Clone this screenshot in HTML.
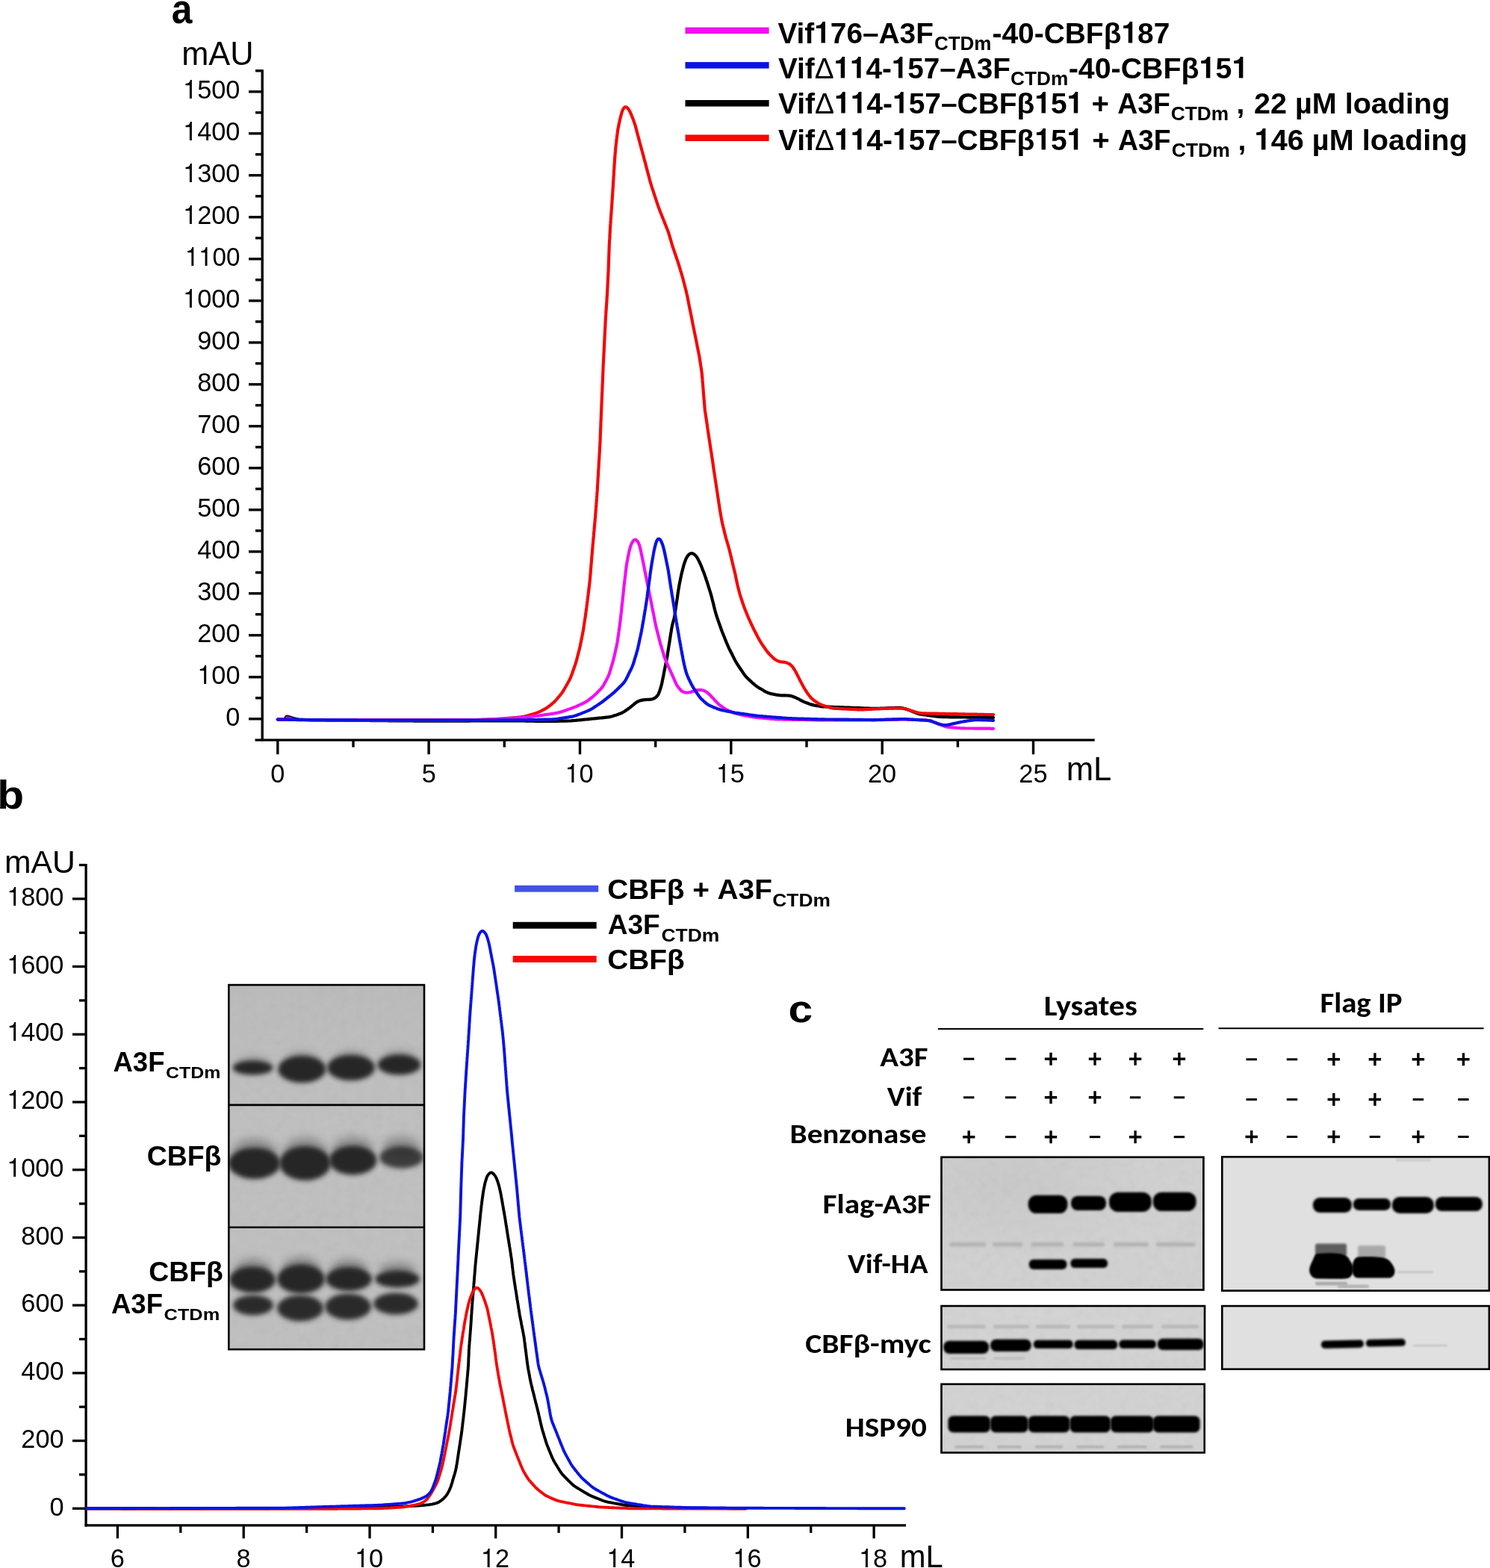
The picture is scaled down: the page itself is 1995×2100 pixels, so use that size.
<!DOCTYPE html>
<html><head><meta charset="utf-8"><title>Figure</title>
<style>html,body{margin:0;padding:0;background:#fff;overflow:hidden}svg{display:block}</style>
</head><body>
<svg width="1995" height="2100" viewBox="0 0 1995 2100">
<defs>
<filter id="b1" x="-20%" y="-100%" width="140%" height="300%"><feGaussianBlur stdDeviation="0.8"/></filter>
<filter id="b2" x="-20%" y="-60%" width="140%" height="220%"><feGaussianBlur stdDeviation="1.6"/></filter>
<filter id="b3" x="-30%" y="-60%" width="160%" height="220%"><feGaussianBlur stdDeviation="3"/></filter>
<filter id="b6" x="-40%" y="-80%" width="180%" height="260%"><feGaussianBlur stdDeviation="6"/></filter>
<linearGradient id="gtop" x1="0" y1="0" x2="0" y2="1"><stop offset="0" stop-color="#b0b0b0" stop-opacity="0.6"/><stop offset="1" stop-color="#b0b0b0" stop-opacity="0"/></linearGradient>
<linearGradient id="btop" x1="0" y1="0" x2="0" y2="1"><stop offset="0" stop-color="#c4c4c4" stop-opacity="0.8"/><stop offset="1" stop-color="#c4c4c4" stop-opacity="0"/></linearGradient>
<filter id="noise" x="0" y="0" width="100%" height="100%"><feTurbulence type="fractalNoise" baseFrequency="0.09" numOctaves="2" seed="3"/><feColorMatrix type="saturate" values="0"/></filter>
<radialGradient id="lyg" cx="0.25" cy="0.2" r="0.6"><stop offset="0" stop-color="#b8b8b8" stop-opacity="0.35"/><stop offset="1" stop-color="#b8b8b8" stop-opacity="0"/></radialGradient>
<clipPath id="gelclip"><rect x="306.3" y="1319.1" width="261.7" height="488.1"/></clipPath>
</defs>
<rect width="1995" height="2100" fill="#fff"/>
<text x="229.71" y="30.70" font-family='"Liberation Sans", Arial, sans-serif' font-weight="bold" font-size="56.00" fill="#000" textLength="27.65" lengthAdjust="spacingAndGlyphs">a</text>
<text x="243.28" y="87.40" font-family='"Liberation Sans", Arial, sans-serif' font-weight="normal" font-size="43.50" fill="#000" textLength="96.26" lengthAdjust="spacingAndGlyphs">mAU</text>
<path d="M351.2,93.3 V992.8" stroke="#000" stroke-width="3.4" fill="none"/>
<path d="M333,962.8 H351" stroke="#000" stroke-width="3.4"/>
<text x="302.34" y="971.70" font-family='"Liberation Sans", Arial, sans-serif' font-weight="normal" font-size="35.20" fill="#000" textLength="19.08" lengthAdjust="spacingAndGlyphs">0</text>
<path d="M342,934.8 H351" stroke="#000" stroke-width="3.4"/>
<path d="M333,906.8 H351" stroke="#000" stroke-width="3.4"/>
<text x="264.26" y="915.70" font-family='"Liberation Sans", Arial, sans-serif' font-weight="normal" font-size="35.20" fill="#000" textLength="57.23" lengthAdjust="spacingAndGlyphs"><tspan font-family="FreeSans, 'Liberation Sans', sans-serif">1</tspan>00</text>
<path d="M342,878.8 H351" stroke="#000" stroke-width="3.4"/>
<path d="M333,850.8 H351" stroke="#000" stroke-width="3.4"/>
<text x="264.26" y="859.70" font-family='"Liberation Sans", Arial, sans-serif' font-weight="normal" font-size="35.20" fill="#000" textLength="57.23" lengthAdjust="spacingAndGlyphs">200</text>
<path d="M342,822.8 H351" stroke="#000" stroke-width="3.4"/>
<path d="M333,794.8 H351" stroke="#000" stroke-width="3.4"/>
<text x="264.26" y="803.70" font-family='"Liberation Sans", Arial, sans-serif' font-weight="normal" font-size="35.20" fill="#000" textLength="57.23" lengthAdjust="spacingAndGlyphs">300</text>
<path d="M342,766.8 H351" stroke="#000" stroke-width="3.4"/>
<path d="M333,738.8 H351" stroke="#000" stroke-width="3.4"/>
<text x="264.26" y="747.70" font-family='"Liberation Sans", Arial, sans-serif' font-weight="normal" font-size="35.20" fill="#000" textLength="57.23" lengthAdjust="spacingAndGlyphs">400</text>
<path d="M342,710.8 H351" stroke="#000" stroke-width="3.4"/>
<path d="M333,682.8 H351" stroke="#000" stroke-width="3.4"/>
<text x="264.26" y="691.70" font-family='"Liberation Sans", Arial, sans-serif' font-weight="normal" font-size="35.20" fill="#000" textLength="57.23" lengthAdjust="spacingAndGlyphs">500</text>
<path d="M342,654.8 H351" stroke="#000" stroke-width="3.4"/>
<path d="M333,626.8 H351" stroke="#000" stroke-width="3.4"/>
<text x="264.26" y="635.70" font-family='"Liberation Sans", Arial, sans-serif' font-weight="normal" font-size="35.20" fill="#000" textLength="57.23" lengthAdjust="spacingAndGlyphs">600</text>
<path d="M342,598.8 H351" stroke="#000" stroke-width="3.4"/>
<path d="M333,570.8 H351" stroke="#000" stroke-width="3.4"/>
<text x="264.26" y="579.70" font-family='"Liberation Sans", Arial, sans-serif' font-weight="normal" font-size="35.20" fill="#000" textLength="57.23" lengthAdjust="spacingAndGlyphs">700</text>
<path d="M342,542.8 H351" stroke="#000" stroke-width="3.4"/>
<path d="M333,514.8 H351" stroke="#000" stroke-width="3.4"/>
<text x="264.26" y="523.70" font-family='"Liberation Sans", Arial, sans-serif' font-weight="normal" font-size="35.20" fill="#000" textLength="57.23" lengthAdjust="spacingAndGlyphs">800</text>
<path d="M342,486.8 H351" stroke="#000" stroke-width="3.4"/>
<path d="M333,458.8 H351" stroke="#000" stroke-width="3.4"/>
<text x="264.26" y="467.70" font-family='"Liberation Sans", Arial, sans-serif' font-weight="normal" font-size="35.20" fill="#000" textLength="57.23" lengthAdjust="spacingAndGlyphs">900</text>
<path d="M342,430.8 H351" stroke="#000" stroke-width="3.4"/>
<path d="M333,402.8 H351" stroke="#000" stroke-width="3.4"/>
<text x="245.05" y="411.70" font-family='"Liberation Sans", Arial, sans-serif' font-weight="normal" font-size="35.20" fill="#000" textLength="76.31" lengthAdjust="spacingAndGlyphs"><tspan font-family="FreeSans, 'Liberation Sans', sans-serif">1</tspan>000</text>
<path d="M342,374.8 H351" stroke="#000" stroke-width="3.4"/>
<path d="M333,346.8 H351" stroke="#000" stroke-width="3.4"/>
<text x="247.63" y="355.70" font-family='"Liberation Sans", Arial, sans-serif' font-weight="normal" font-size="35.20" fill="#000" textLength="73.76" lengthAdjust="spacingAndGlyphs"><tspan font-family="FreeSans, 'Liberation Sans', sans-serif">1</tspan><tspan font-family="FreeSans, 'Liberation Sans', sans-serif">1</tspan>00</text>
<path d="M342,318.8 H351" stroke="#000" stroke-width="3.4"/>
<path d="M333,290.8 H351" stroke="#000" stroke-width="3.4"/>
<text x="245.05" y="299.70" font-family='"Liberation Sans", Arial, sans-serif' font-weight="normal" font-size="35.20" fill="#000" textLength="76.31" lengthAdjust="spacingAndGlyphs"><tspan font-family="FreeSans, 'Liberation Sans', sans-serif">1</tspan>200</text>
<path d="M342,262.8 H351" stroke="#000" stroke-width="3.4"/>
<path d="M333,234.8 H351" stroke="#000" stroke-width="3.4"/>
<text x="245.05" y="243.70" font-family='"Liberation Sans", Arial, sans-serif' font-weight="normal" font-size="35.20" fill="#000" textLength="76.31" lengthAdjust="spacingAndGlyphs"><tspan font-family="FreeSans, 'Liberation Sans', sans-serif">1</tspan>300</text>
<path d="M342,206.8 H351" stroke="#000" stroke-width="3.4"/>
<path d="M333,178.8 H351" stroke="#000" stroke-width="3.4"/>
<text x="245.05" y="187.70" font-family='"Liberation Sans", Arial, sans-serif' font-weight="normal" font-size="35.20" fill="#000" textLength="76.31" lengthAdjust="spacingAndGlyphs"><tspan font-family="FreeSans, 'Liberation Sans', sans-serif">1</tspan>400</text>
<path d="M342,150.8 H351" stroke="#000" stroke-width="3.4"/>
<path d="M333,122.8 H351" stroke="#000" stroke-width="3.4"/>
<text x="245.05" y="131.70" font-family='"Liberation Sans", Arial, sans-serif' font-weight="normal" font-size="35.20" fill="#000" textLength="76.31" lengthAdjust="spacingAndGlyphs"><tspan font-family="FreeSans, 'Liberation Sans', sans-serif">1</tspan>500</text>
<path d="M342,94.8 H351" stroke="#000" stroke-width="3.4"/>
<path d="M341.5,991.1 H1465.7" stroke="#000" stroke-width="3.4"/>
<path d="M371.8,991 V1010.3" stroke="#000" stroke-width="3.4"/>
<text x="362.28" y="1048.00" font-family='"Liberation Sans", Arial, sans-serif' font-weight="normal" font-size="35.20" fill="#000" textLength="19.08" lengthAdjust="spacingAndGlyphs">0</text>
<path d="M473.0,991 V1000.7" stroke="#000" stroke-width="3.4"/>
<path d="M574.1,991 V1010.3" stroke="#000" stroke-width="3.4"/>
<text x="564.63" y="1048.00" font-family='"Liberation Sans", Arial, sans-serif' font-weight="normal" font-size="35.20" fill="#000" textLength="19.08" lengthAdjust="spacingAndGlyphs">5</text>
<path d="M675.3,991 V1000.7" stroke="#000" stroke-width="3.4"/>
<path d="M776.5,991 V1010.3" stroke="#000" stroke-width="3.4"/>
<text x="756.43" y="1048.00" font-family='"Liberation Sans", Arial, sans-serif' font-weight="normal" font-size="35.20" fill="#000" textLength="38.15" lengthAdjust="spacingAndGlyphs"><tspan font-family="FreeSans, 'Liberation Sans', sans-serif">1</tspan>0</text>
<path d="M877.7,991 V1000.7" stroke="#000" stroke-width="3.4"/>
<path d="M978.8,991 V1010.3" stroke="#000" stroke-width="3.4"/>
<text x="958.78" y="1048.00" font-family='"Liberation Sans", Arial, sans-serif' font-weight="normal" font-size="35.20" fill="#000" textLength="38.15" lengthAdjust="spacingAndGlyphs"><tspan font-family="FreeSans, 'Liberation Sans', sans-serif">1</tspan>5</text>
<path d="M1080.0,991 V1000.7" stroke="#000" stroke-width="3.4"/>
<path d="M1181.2,991 V1010.3" stroke="#000" stroke-width="3.4"/>
<text x="1161.99" y="1048.00" font-family='"Liberation Sans", Arial, sans-serif' font-weight="normal" font-size="35.20" fill="#000" textLength="38.15" lengthAdjust="spacingAndGlyphs">20</text>
<path d="M1282.4,991 V1000.7" stroke="#000" stroke-width="3.4"/>
<path d="M1383.5,991 V1010.3" stroke="#000" stroke-width="3.4"/>
<text x="1364.34" y="1048.00" font-family='"Liberation Sans", Arial, sans-serif' font-weight="normal" font-size="35.20" fill="#000" textLength="38.15" lengthAdjust="spacingAndGlyphs">25</text>
<text x="1427.66" y="1045.40" font-family='"Liberation Sans", Arial, sans-serif' font-weight="normal" font-size="43.50" fill="#000" textLength="60.61" lengthAdjust="spacingAndGlyphs">mL</text>
<path d="M371.8,963.6 L373.0,963.6 L374.7,963.7 L376.6,963.7 L378.6,963.7 L380.6,963.8 L382.6,963.8 L384.6,963.8 L386.6,963.9 L388.6,963.9 L390.6,963.9 L392.6,964.0 L394.6,964.0 L396.6,964.0 L398.6,964.1 L400.6,964.1 L402.6,964.1 L404.6,964.2 L406.6,964.2 L408.6,964.2 L410.6,964.2 L412.6,964.3 L414.6,964.3 L416.6,964.3 L418.6,964.4 L420.6,964.4 L422.6,964.4 L424.6,964.4 L426.6,964.5 L428.6,964.5 L430.6,964.5 L432.6,964.5 L434.6,964.5 L436.6,964.5 L438.6,964.6 L440.6,964.6 L442.6,964.6 L444.6,964.6 L446.6,964.6 L448.6,964.6 L450.6,964.7 L452.6,964.7 L454.6,964.7 L456.6,964.7 L458.6,964.7 L460.6,964.7 L462.6,964.8 L464.6,964.8 L466.6,964.8 L468.6,964.8 L470.6,964.8 L472.6,964.9 L474.6,964.9 L476.6,964.9 L478.6,964.9 L480.6,964.9 L482.6,964.9 L484.6,965.0 L486.6,965.0 L488.6,965.0 L490.6,965.0 L492.6,965.0 L494.6,965.0 L496.6,965.1 L498.6,965.1 L500.6,965.1 L502.6,965.1 L504.6,965.1 L506.6,965.1 L508.6,965.2 L510.6,965.2 L512.6,965.2 L514.6,965.2 L516.6,965.2 L518.6,965.2 L520.6,965.3 L522.6,965.3 L524.6,965.3 L526.6,965.3 L528.6,965.3 L530.6,965.3 L532.6,965.4 L534.5,965.4 L536.5,965.4 L538.5,965.4 L540.5,965.4 L542.5,965.5 L544.5,965.5 L546.5,965.5 L548.5,965.5 L550.5,965.5 L552.5,965.5 L554.5,965.6 L556.5,965.6 L558.5,965.6 L560.5,965.6 L562.5,965.6 L564.5,965.6 L566.5,965.6 L568.5,965.6 L570.5,965.6 L572.5,965.6 L574.5,965.6 L576.5,965.6 L578.5,965.6 L580.5,965.6 L582.5,965.6 L584.5,965.6 L586.5,965.6 L588.5,965.6 L590.5,965.6 L592.5,965.6 L594.5,965.6 L596.5,965.6 L598.5,965.6 L600.5,965.6 L602.5,965.6 L604.5,965.6 L606.5,965.6 L608.5,965.6 L610.5,965.6 L612.5,965.6 L614.5,965.6 L616.5,965.6 L618.5,965.6 L620.5,965.6 L622.5,965.6 L624.5,965.6 L626.5,965.6 L628.5,965.6 L630.5,965.5 L632.5,965.5 L634.5,965.5 L636.5,965.5 L638.5,965.5 L640.5,965.5 L642.5,965.5 L644.5,965.5 L646.5,965.5 L648.5,965.5 L650.5,965.5 L652.5,965.5 L654.5,965.5 L656.5,965.5 L658.5,965.5 L660.5,965.5 L662.5,965.5 L664.5,965.5 L666.5,965.5 L668.5,965.5 L670.5,965.5 L672.5,965.5 L674.5,965.5 L676.5,965.5 L678.5,965.5 L680.5,965.5 L682.5,965.5 L684.5,965.5 L686.5,965.5 L688.5,965.5 L690.5,965.5 L692.5,965.5 L694.5,965.5 L696.5,965.5 L698.5,965.5 L700.5,965.5 L702.5,965.5 L704.5,965.6 L706.5,965.6 L708.5,965.6 L710.5,965.7 L712.5,965.7 L714.5,965.7 L716.5,965.8 L718.5,965.8 L720.5,965.8 L722.5,965.9 L724.5,965.9 L726.5,965.9 L728.5,965.9 L730.5,966.0 L732.5,966.0 L734.5,966.0 L736.5,965.9 L738.5,965.9 L740.5,965.9 L742.5,965.8 L744.5,965.8 L746.5,965.8 L748.5,965.7 L750.5,965.7 L752.5,965.7 L754.5,965.6 L756.5,965.6 L758.5,965.6 L760.5,965.5 L762.5,965.5 L764.5,965.4 L766.5,965.2 L768.5,965.0 L770.5,964.9 L772.4,964.7 L774.4,964.5 L776.4,964.3 L778.4,964.1 L780.4,963.9 L782.4,963.7 L784.4,963.5 L786.4,963.3 L788.4,963.1 L790.3,962.9 L792.3,962.7 L794.3,962.5 L796.3,962.3 L798.3,962.1 L800.3,961.9 L802.3,961.7 L804.3,961.5 L806.3,961.3 L808.3,961.1 L810.2,960.9 L812.2,960.7 L814.2,960.5 L816.2,960.1 L818.1,959.7 L820.0,959.2 L821.9,958.6 L823.8,958.0 L825.7,957.4 L827.6,956.7 L829.5,956.0 L831.4,955.3 L833.2,954.5 L834.9,953.5 L836.6,952.5 L838.2,951.3 L839.9,950.2 L841.5,949.0 L843.1,947.9 L844.7,946.6 L846.2,945.4 L847.7,944.1 L849.3,942.8 L850.8,941.5 L852.4,940.4 L854.2,939.5 L856.0,938.7 L857.9,938.1 L859.8,937.6 L861.7,937.3 L863.7,937.1 L865.7,937.0 L867.7,936.9 L869.7,936.8 L871.6,936.7 L873.5,936.3 L875.3,935.6 L876.9,934.7 L878.5,933.5 L879.8,932.1 L881.0,930.6 L881.9,928.9 L882.6,927.0 L883.3,925.2 L883.9,923.3 L884.5,921.4 L885.1,919.5 L885.6,917.5 L886.1,915.6 L886.5,913.6 L886.9,911.7 L887.3,909.7 L887.7,907.8 L888.1,905.8 L888.5,903.8 L888.8,901.9 L889.2,899.9 L889.6,898.0 L890.0,896.0 L890.4,894.0 L890.8,892.1 L891.2,890.1 L891.6,888.2 L892.0,886.2 L892.4,884.2 L892.8,882.3 L893.1,880.3 L893.5,878.3 L893.8,876.4 L894.1,874.4 L894.4,872.4 L894.7,870.4 L895.0,868.5 L895.3,866.5 L895.6,864.5 L896.0,862.5 L896.3,860.6 L896.6,858.6 L896.9,856.6 L897.2,854.6 L897.5,852.7 L897.8,850.7 L898.1,848.7 L898.5,846.7 L898.8,844.8 L899.1,842.8 L899.4,840.8 L899.8,838.8 L900.2,836.9 L900.7,835.0 L901.2,833.0 L901.8,831.1 L902.3,829.2 L902.8,827.2 L903.1,825.3 L903.5,823.3 L903.8,821.3 L904.0,819.4 L904.3,817.4 L904.6,815.4 L904.9,813.4 L905.2,811.5 L905.5,809.5 L905.8,807.5 L906.1,805.5 L906.4,803.5 L906.7,801.6 L907.0,799.6 L907.3,797.6 L907.5,795.6 L907.8,793.7 L908.1,791.7 L908.4,789.7 L908.8,787.7 L909.1,785.8 L909.4,783.8 L909.8,781.8 L910.2,779.9 L910.6,777.9 L911.0,775.9 L911.4,774.0 L911.8,772.0 L912.2,770.1 L912.6,768.1 L913.1,766.2 L913.6,764.2 L914.1,762.3 L914.6,760.4 L915.1,758.4 L915.6,756.5 L916.2,754.6 L916.9,752.7 L917.6,750.8 L918.3,749.0 L919.1,747.2 L920.1,745.5 L921.2,744.0 L922.6,742.6 L924.1,741.6 L925.6,741.0 L927.1,741.1 L928.6,741.8 L930.1,742.9 L931.5,744.2 L932.7,745.7 L933.8,747.4 L934.7,749.1 L935.6,750.9 L936.5,752.7 L937.4,754.5 L938.2,756.3 L939.0,758.2 L939.7,760.0 L940.4,761.9 L941.1,763.8 L941.9,765.6 L942.6,767.5 L943.3,769.4 L943.9,771.2 L944.6,773.1 L945.2,775.0 L945.8,776.9 L946.5,778.8 L947.1,780.7 L947.7,782.6 L948.3,784.5 L948.9,786.4 L949.5,788.3 L950.1,790.3 L950.7,792.2 L951.3,794.1 L951.9,796.0 L952.4,797.9 L952.9,799.8 L953.4,801.8 L953.9,803.7 L954.4,805.7 L954.9,807.6 L955.4,809.5 L955.8,811.5 L956.3,813.4 L956.8,815.4 L957.3,817.3 L957.8,819.2 L958.3,821.2 L958.9,823.1 L959.5,825.0 L960.1,826.9 L960.8,828.8 L961.4,830.7 L962.1,832.5 L962.7,834.4 L963.4,836.3 L964.1,838.2 L964.7,840.1 L965.4,842.0 L966.1,843.9 L966.8,845.7 L967.5,847.6 L968.3,849.4 L969.0,851.3 L969.8,853.2 L970.5,855.0 L971.2,856.9 L972.0,858.7 L972.7,860.6 L973.5,862.4 L974.3,864.3 L975.1,866.1 L975.9,867.9 L976.8,869.7 L977.7,871.5 L978.6,873.3 L979.5,875.1 L980.4,876.8 L981.3,878.6 L982.2,880.4 L983.1,882.2 L984.0,884.0 L985.0,885.7 L986.0,887.5 L987.0,889.2 L988.1,890.8 L989.2,892.5 L990.3,894.2 L991.4,895.8 L992.6,897.5 L993.7,899.1 L994.8,900.8 L995.9,902.5 L997.1,904.1 L998.3,905.6 L999.6,907.1 L1001.1,908.5 L1002.5,909.9 L1004.0,911.2 L1005.4,912.6 L1006.9,914.0 L1008.4,915.3 L1009.9,916.6 L1011.4,917.9 L1013.0,919.1 L1014.6,920.2 L1016.3,921.3 L1018.1,922.3 L1019.8,923.3 L1021.5,924.3 L1023.2,925.4 L1024.9,926.3 L1026.7,927.2 L1028.5,928.0 L1030.4,928.6 L1032.3,929.1 L1034.3,929.5 L1036.2,929.9 L1038.2,930.3 L1040.2,930.6 L1042.1,930.9 L1044.1,931.2 L1046.1,931.3 L1048.1,931.4 L1050.1,931.4 L1052.1,931.4 L1054.1,931.5 L1056.1,931.6 L1058.0,931.9 L1059.9,932.3 L1061.8,933.0 L1063.7,933.7 L1065.5,934.4 L1067.3,935.3 L1069.1,936.2 L1070.9,937.1 L1072.6,938.1 L1074.4,939.0 L1076.2,939.8 L1078.0,940.6 L1079.9,941.3 L1081.8,942.0 L1083.6,942.7 L1085.5,943.4 L1087.4,943.9 L1089.4,944.4 L1091.3,944.8 L1093.3,945.2 L1095.3,945.5 L1097.2,945.8 L1099.2,946.1 L1101.2,946.3 L1103.2,946.4 L1105.2,946.5 L1107.2,946.6 L1109.2,946.7 L1111.2,946.7 L1113.2,946.8 L1115.2,946.9 L1117.2,947.0 L1119.2,947.0 L1121.2,947.1 L1123.2,947.2 L1125.2,947.3 L1127.2,947.4 L1129.2,947.4 L1131.2,947.5 L1133.2,947.6 L1135.2,947.7 L1137.1,947.7 L1139.1,947.8 L1141.1,947.9 L1143.1,948.0 L1145.1,948.0 L1147.1,948.1 L1149.1,948.2 L1151.1,948.2 L1153.1,948.3 L1155.1,948.4 L1157.1,948.5 L1159.1,948.5 L1161.1,948.6 L1163.1,948.7 L1165.1,948.8 L1167.1,948.8 L1169.1,948.9 L1171.1,948.9 L1173.1,948.9 L1175.1,948.9 L1177.1,948.8 L1179.1,948.7 L1181.1,948.6 L1183.1,948.5 L1185.1,948.5 L1187.1,948.4 L1189.1,948.3 L1191.1,948.2 L1193.1,948.1 L1195.1,948.1 L1197.1,948.0 L1199.1,947.9 L1201.1,947.8 L1203.1,947.8 L1205.1,947.9 L1207.0,948.1 L1209.0,948.5 L1210.9,949.0 L1212.8,949.6 L1214.7,950.2 L1216.6,950.8 L1218.4,951.6 L1220.3,952.3 L1222.1,953.1 L1224.0,953.9 L1225.8,954.6 L1227.7,955.3 L1229.6,955.9 L1231.5,956.4 L1233.5,956.7 L1235.4,957.0 L1237.4,957.3 L1239.4,957.5 L1241.4,957.8 L1243.4,958.1 L1245.3,958.3 L1247.3,958.6 L1249.3,958.9 L1251.3,959.1 L1253.3,959.4 L1255.3,959.7 L1257.2,959.9 L1259.2,960.0 L1261.2,960.1 L1263.2,960.2 L1265.2,960.2 L1267.2,960.2 L1269.2,960.2 L1271.2,960.3 L1273.2,960.3 L1275.2,960.3 L1277.2,960.3 L1279.2,960.4 L1281.2,960.4 L1283.2,960.4 L1285.2,960.4 L1287.2,960.5 L1289.2,960.5 L1291.2,960.5 L1293.2,960.5 L1295.2,960.6 L1297.2,960.6 L1299.2,960.6 L1301.2,960.6 L1303.2,960.7 L1305.2,960.7 L1307.2,960.7 L1309.2,960.7 L1311.2,960.8 L1313.2,960.8 L1315.2,960.8 L1317.2,960.8 L1319.2,960.9 L1321.2,960.9 L1323.2,960.9 L1325.2,960.9 L1327.1,960.9 L1328.8,961.0 L1330.0,961.0" stroke="#000" stroke-width="4.2" fill="none" stroke-linejoin="round" stroke-linecap="round"/>
<path d="M371.8,963.6 L373.0,963.6 L374.7,963.6 L376.6,963.7 L378.6,963.7 L380.6,963.7 L382.6,963.7 L384.6,963.7 L386.6,963.7 L388.6,963.8 L390.6,963.8 L392.6,963.8 L394.6,963.8 L396.6,963.8 L398.6,963.8 L400.6,963.9 L402.6,963.9 L404.6,963.9 L406.6,963.9 L408.6,963.9 L410.6,964.0 L412.6,964.0 L414.6,964.0 L416.6,964.0 L418.6,964.0 L420.6,964.0 L422.6,964.1 L424.6,964.1 L426.6,964.1 L428.6,964.1 L430.6,964.1 L432.6,964.1 L434.6,964.2 L436.6,964.2 L438.6,964.2 L440.6,964.2 L442.6,964.2 L444.6,964.3 L446.6,964.3 L448.6,964.3 L450.6,964.3 L452.6,964.3 L454.6,964.3 L456.6,964.3 L458.6,964.3 L460.6,964.3 L462.6,964.3 L464.6,964.3 L466.6,964.3 L468.6,964.3 L470.6,964.3 L472.6,964.3 L474.6,964.3 L476.6,964.3 L478.6,964.3 L480.6,964.3 L482.6,964.3 L484.6,964.3 L486.6,964.3 L488.6,964.3 L490.6,964.3 L492.6,964.3 L494.6,964.3 L496.6,964.3 L498.6,964.3 L500.6,964.3 L502.6,964.3 L504.6,964.3 L506.6,964.4 L508.6,964.4 L510.6,964.4 L512.6,964.4 L514.6,964.4 L516.6,964.4 L518.6,964.4 L520.6,964.4 L522.6,964.4 L524.6,964.4 L526.6,964.4 L528.6,964.4 L530.6,964.4 L532.6,964.4 L534.6,964.4 L536.6,964.4 L538.6,964.4 L540.6,964.4 L542.6,964.4 L544.6,964.4 L546.6,964.4 L548.6,964.4 L550.6,964.4 L552.6,964.4 L554.6,964.4 L556.6,964.4 L558.6,964.4 L560.6,964.4 L562.6,964.4 L564.6,964.4 L566.6,964.4 L568.6,964.4 L570.6,964.3 L572.6,964.3 L574.6,964.3 L576.6,964.3 L578.6,964.3 L580.6,964.3 L582.6,964.3 L584.6,964.3 L586.6,964.3 L588.6,964.3 L590.6,964.2 L592.6,964.2 L594.6,964.2 L596.6,964.2 L598.6,964.2 L600.6,964.2 L602.6,964.2 L604.6,964.2 L606.6,964.2 L608.5,964.2 L610.5,964.1 L612.5,964.1 L614.5,964.1 L616.5,964.1 L618.5,964.1 L620.5,964.1 L622.5,964.1 L624.5,964.1 L626.5,964.1 L628.5,964.1 L630.5,964.0 L632.5,964.0 L634.5,964.0 L636.5,964.0 L638.5,964.0 L640.5,963.9 L642.5,963.9 L644.5,963.8 L646.5,963.7 L648.5,963.7 L650.5,963.6 L652.5,963.5 L654.5,963.4 L656.5,963.3 L658.5,963.3 L660.5,963.2 L662.5,963.1 L664.5,963.0 L666.5,962.9 L668.5,962.8 L670.5,962.7 L672.5,962.6 L674.5,962.4 L676.5,962.2 L678.5,962.1 L680.5,961.9 L682.5,961.7 L684.5,961.5 L686.4,961.4 L688.4,961.2 L690.4,961.0 L692.4,960.9 L694.4,960.7 L696.4,960.5 L698.4,960.2 L700.3,959.9 L702.3,959.5 L704.2,959.0 L706.2,958.5 L708.1,957.9 L710.0,957.4 L711.9,956.8 L713.9,956.3 L715.8,955.7 L717.7,955.1 L719.5,954.4 L721.4,953.6 L723.2,952.8 L725.0,951.9 L726.7,951.0 L728.5,950.1 L730.3,949.1 L732.0,948.1 L733.6,947.0 L735.2,945.8 L736.8,944.6 L738.3,943.3 L739.9,942.0 L741.4,940.7 L742.8,939.3 L744.2,937.9 L745.5,936.4 L746.8,934.9 L748.1,933.3 L749.4,931.8 L750.6,930.3 L751.9,928.7 L753.0,927.1 L754.1,925.4 L755.2,923.7 L756.1,922.0 L757.1,920.2 L758.1,918.5 L759.1,916.7 L760.0,915.0 L761.0,913.3 L762.0,911.5 L762.9,909.7 L763.8,907.9 L764.5,906.1 L765.2,904.2 L765.9,902.4 L766.6,900.5 L767.2,898.6 L767.9,896.7 L768.6,894.8 L769.2,892.9 L769.9,891.0 L770.5,889.1 L771.1,887.2 L771.7,885.3 L772.2,883.4 L772.7,881.4 L773.2,879.5 L773.7,877.6 L774.2,875.6 L774.7,873.7 L775.2,871.8 L775.7,869.8 L776.1,867.9 L776.6,865.9 L777.0,864.0 L777.4,862.0 L777.8,860.1 L778.2,858.1 L778.6,856.1 L779.0,854.2 L779.4,852.2 L779.8,850.3 L780.1,848.3 L780.5,846.3 L780.9,844.4 L781.2,842.4 L781.5,840.4 L781.8,838.4 L782.1,836.5 L782.4,834.5 L782.7,832.5 L783.0,830.5 L783.3,828.5 L783.6,826.6 L783.9,824.6 L784.2,822.6 L784.4,820.6 L784.7,818.6 L785.0,816.7 L785.2,814.7 L785.5,812.7 L785.7,810.7 L786.0,808.7 L786.2,806.7 L786.5,804.8 L786.7,802.8 L787.0,800.8 L787.2,798.8 L787.5,796.8 L787.7,794.8 L788.0,792.9 L788.2,790.9 L788.5,788.9 L788.7,786.9 L789.0,784.9 L789.2,782.9 L789.4,781.0 L789.7,779.0 L789.8,777.0 L790.0,775.0 L790.2,773.0 L790.3,771.0 L790.5,769.0 L790.7,767.0 L790.8,765.0 L791.0,763.0 L791.1,761.0 L791.3,759.0 L791.5,757.0 L791.6,755.1 L791.8,753.1 L792.0,751.1 L792.1,749.1 L792.3,747.1 L792.4,745.1 L792.6,743.1 L792.8,741.1 L793.0,739.1 L793.1,737.1 L793.3,735.1 L793.5,733.1 L793.6,731.1 L793.8,729.1 L794.0,727.2 L794.2,725.2 L794.3,723.2 L794.5,721.2 L794.7,719.2 L794.9,717.2 L795.0,715.2 L795.2,713.2 L795.4,711.2 L795.6,709.2 L795.7,707.2 L795.9,705.2 L796.1,703.3 L796.3,701.3 L796.5,699.3 L796.6,697.3 L796.8,695.3 L797.0,693.3 L797.2,691.3 L797.3,689.3 L797.5,687.3 L797.6,685.3 L797.8,683.3 L797.9,681.3 L798.1,679.3 L798.2,677.3 L798.4,675.4 L798.5,673.4 L798.7,671.4 L798.8,669.4 L799.0,667.4 L799.1,665.4 L799.3,663.4 L799.4,661.4 L799.5,659.4 L799.7,657.4 L799.8,655.4 L799.9,653.4 L800.0,651.4 L800.1,649.4 L800.3,647.4 L800.4,645.4 L800.5,643.4 L800.6,641.4 L800.7,639.4 L800.9,637.4 L801.0,635.4 L801.1,633.5 L801.2,631.5 L801.3,629.5 L801.5,627.5 L801.6,625.5 L801.7,623.5 L801.8,621.5 L801.9,619.5 L802.0,617.5 L802.2,615.5 L802.3,613.5 L802.4,611.5 L802.5,609.5 L802.6,607.5 L802.8,605.5 L802.9,603.5 L803.0,601.5 L803.1,599.5 L803.2,597.5 L803.3,595.5 L803.4,593.5 L803.5,591.5 L803.6,589.5 L803.7,587.5 L803.7,585.5 L803.8,583.5 L803.9,581.5 L804.0,579.5 L804.0,577.5 L804.1,575.5 L804.2,573.5 L804.3,571.5 L804.4,569.6 L804.4,567.6 L804.5,565.6 L804.6,563.6 L804.7,561.6 L804.8,559.6 L804.8,557.6 L804.9,555.6 L805.0,553.6 L805.1,551.6 L805.2,549.6 L805.3,547.6 L805.3,545.6 L805.4,543.6 L805.5,541.6 L805.6,539.6 L805.7,537.6 L805.8,535.6 L805.8,533.6 L805.9,531.6 L806.0,529.6 L806.1,527.6 L806.2,525.6 L806.3,523.6 L806.4,521.6 L806.4,519.6 L806.5,517.6 L806.6,515.6 L806.7,513.6 L806.8,511.6 L806.9,509.6 L806.9,507.6 L807.0,505.6 L807.1,503.6 L807.2,501.6 L807.3,499.6 L807.4,497.6 L807.5,495.6 L807.5,493.6 L807.6,491.6 L807.7,489.6 L807.8,487.6 L807.9,485.6 L808.0,483.6 L808.1,481.6 L808.2,479.7 L808.3,477.7 L808.4,475.7 L808.5,473.7 L808.6,471.7 L808.7,469.7 L808.8,467.7 L808.9,465.7 L809.0,463.7 L809.1,461.7 L809.2,459.7 L809.3,457.7 L809.4,455.7 L809.5,453.7 L809.6,451.7 L809.7,449.7 L809.8,447.7 L809.9,445.7 L810.0,443.7 L810.1,441.7 L810.2,439.7 L810.3,437.7 L810.4,435.7 L810.5,433.7 L810.6,431.7 L810.7,429.7 L810.8,427.7 L810.9,425.7 L811.0,423.7 L811.2,421.7 L811.3,419.7 L811.4,417.7 L811.6,415.8 L811.7,413.8 L811.8,411.8 L812.0,409.8 L812.1,407.8 L812.2,405.8 L812.4,403.8 L812.5,401.8 L812.6,399.8 L812.7,397.8 L812.9,395.8 L813.0,393.8 L813.1,391.8 L813.2,389.8 L813.3,387.8 L813.4,385.8 L813.5,383.8 L813.6,381.8 L813.7,379.8 L813.8,377.8 L813.9,375.8 L814.0,373.8 L814.1,371.8 L814.2,369.8 L814.3,367.8 L814.4,365.8 L814.5,363.8 L814.6,361.9 L814.7,359.9 L814.7,357.9 L814.8,355.9 L814.9,353.9 L814.9,351.9 L815.0,349.9 L815.1,347.9 L815.2,345.9 L815.2,343.9 L815.3,341.9 L815.4,339.9 L815.4,337.9 L815.5,335.9 L815.6,333.9 L815.6,331.9 L815.7,329.9 L815.8,327.9 L815.9,325.9 L816.0,323.9 L816.1,321.9 L816.3,319.9 L816.4,317.9 L816.5,315.9 L816.6,313.9 L816.7,311.9 L816.8,309.9 L816.9,307.9 L817.0,305.9 L817.1,303.9 L817.2,301.9 L817.4,299.9 L817.5,297.9 L817.7,295.9 L817.8,293.9 L817.9,292.0 L818.1,290.0 L818.2,288.0 L818.4,286.0 L818.5,284.0 L818.7,282.0 L818.8,280.0 L819.0,278.0 L819.1,276.0 L819.2,274.0 L819.4,272.0 L819.5,270.0 L819.6,268.0 L819.8,266.0 L819.9,264.0 L820.0,262.0 L820.2,260.0 L820.3,258.0 L820.4,256.0 L820.5,254.0 L820.7,252.1 L820.8,250.1 L820.9,248.1 L821.0,246.1 L821.1,244.1 L821.3,242.1 L821.4,240.1 L821.5,238.1 L821.6,236.1 L821.8,234.1 L821.9,232.1 L822.0,230.1 L822.1,228.1 L822.3,226.1 L822.4,224.1 L822.5,222.1 L822.6,220.1 L822.8,218.1 L822.9,216.1 L823.0,214.1 L823.2,212.1 L823.3,210.1 L823.5,208.1 L823.6,206.2 L823.8,204.2 L824.0,202.2 L824.1,200.2 L824.3,198.2 L824.5,196.2 L824.7,194.2 L824.9,192.2 L825.2,190.2 L825.4,188.2 L825.6,186.3 L825.9,184.3 L826.1,182.3 L826.4,180.3 L826.7,178.3 L826.9,176.4 L827.2,174.4 L827.5,172.4 L827.9,170.4 L828.3,168.5 L828.7,166.5 L829.1,164.6 L829.5,162.6 L829.9,160.7 L830.4,158.7 L830.9,156.8 L831.4,154.8 L831.9,152.9 L832.4,151.0 L833.1,149.1 L833.8,147.3 L834.7,145.6 L835.7,144.2 L837.0,143.4 L838.3,143.4 L839.7,144.2 L840.9,145.4 L842.0,147.0 L843.0,148.7 L843.9,150.5 L844.7,152.3 L845.5,154.2 L846.2,156.0 L847.0,157.9 L847.7,159.7 L848.4,161.6 L849.0,163.5 L849.7,165.4 L850.3,167.3 L850.9,169.2 L851.4,171.1 L851.9,173.1 L852.4,175.0 L852.9,176.9 L853.4,178.9 L853.9,180.8 L854.5,182.7 L855.0,184.7 L855.5,186.6 L856.0,188.5 L856.5,190.5 L857.0,192.4 L857.6,194.3 L858.1,196.3 L858.6,198.2 L859.1,200.1 L859.6,202.0 L860.2,204.0 L860.7,205.9 L861.2,207.8 L861.7,209.8 L862.2,211.7 L862.7,213.6 L863.3,215.6 L863.8,217.5 L864.3,219.4 L864.8,221.4 L865.3,223.3 L865.8,225.2 L866.3,227.2 L866.8,229.1 L867.3,231.0 L867.9,233.0 L868.4,234.9 L868.9,236.8 L869.4,238.8 L869.9,240.7 L870.4,242.6 L871.0,244.6 L871.5,246.5 L872.1,248.4 L872.7,250.3 L873.3,252.2 L874.0,254.1 L874.6,256.0 L875.2,257.9 L875.8,259.8 L876.5,261.7 L877.1,263.6 L877.7,265.5 L878.4,267.4 L879.0,269.3 L879.6,271.2 L880.2,273.1 L880.9,275.0 L881.5,276.9 L882.2,278.8 L882.9,280.6 L883.6,282.5 L884.3,284.3 L885.1,286.2 L885.8,288.1 L886.6,289.9 L887.3,291.8 L888.1,293.6 L888.8,295.5 L889.6,297.3 L890.3,299.2 L891.0,301.0 L891.8,302.9 L892.5,304.8 L893.3,306.6 L894.0,308.5 L894.7,310.4 L895.3,312.2 L895.9,314.2 L896.5,316.1 L897.0,318.0 L897.6,319.9 L898.2,321.8 L898.7,323.8 L899.3,325.7 L899.8,327.6 L900.4,329.5 L901.0,331.4 L901.7,333.3 L902.3,335.2 L903.0,337.1 L903.6,339.0 L904.3,340.9 L904.9,342.7 L905.6,344.6 L906.2,346.5 L906.9,348.4 L907.5,350.3 L908.1,352.2 L908.7,354.1 L909.3,356.0 L909.9,358.0 L910.5,359.9 L911.0,361.8 L911.6,363.7 L912.2,365.6 L912.8,367.5 L913.3,369.4 L913.9,371.4 L914.4,373.3 L914.9,375.2 L915.4,377.2 L915.9,379.1 L916.4,381.0 L916.9,383.0 L917.4,384.9 L917.9,386.9 L918.4,388.8 L918.9,390.7 L919.3,392.7 L919.8,394.6 L920.2,396.6 L920.6,398.5 L921.0,400.5 L921.4,402.5 L921.8,404.4 L922.1,406.4 L922.5,408.3 L922.9,410.3 L923.3,412.3 L923.7,414.2 L924.1,416.2 L924.5,418.2 L924.9,420.1 L925.3,422.1 L925.7,424.0 L926.1,426.0 L926.5,428.0 L926.9,429.9 L927.2,431.9 L927.6,433.8 L928.0,435.8 L928.4,437.8 L928.8,439.7 L929.2,441.7 L929.6,443.6 L930.0,445.6 L930.4,447.6 L930.8,449.5 L931.2,451.5 L931.6,453.4 L932.0,455.4 L932.4,457.4 L932.8,459.3 L933.2,461.3 L933.5,463.2 L933.9,465.2 L934.3,467.2 L934.7,469.1 L935.1,471.1 L935.5,473.1 L935.9,475.0 L936.2,477.0 L936.6,478.9 L936.9,480.9 L937.2,482.9 L937.5,484.9 L937.8,486.8 L938.1,488.8 L938.4,490.8 L938.7,492.8 L939.0,494.8 L939.3,496.7 L939.6,498.7 L939.8,500.7 L940.0,502.7 L940.2,504.7 L940.4,506.7 L940.5,508.7 L940.7,510.7 L940.8,512.6 L941.0,514.6 L941.2,516.6 L941.3,518.6 L941.5,520.6 L941.6,522.6 L941.8,524.6 L941.9,526.6 L942.1,528.6 L942.3,530.6 L942.4,532.6 L942.6,534.6 L942.8,536.6 L942.9,538.6 L943.1,540.6 L943.3,542.5 L943.4,544.5 L943.6,546.5 L943.8,548.5 L944.0,550.5 L944.3,552.5 L944.6,554.5 L944.9,556.4 L945.2,558.4 L945.5,560.4 L945.8,562.4 L946.1,564.4 L946.4,566.3 L946.7,568.3 L947.0,570.3 L947.2,572.3 L947.5,574.2 L947.8,576.2 L948.1,578.2 L948.4,580.2 L948.7,582.1 L949.0,584.1 L949.3,586.1 L949.6,588.1 L949.9,590.1 L950.2,592.0 L950.5,594.0 L950.8,596.0 L951.1,598.0 L951.4,599.9 L951.7,601.9 L952.0,603.9 L952.3,605.9 L952.6,607.9 L952.9,609.8 L953.2,611.8 L953.5,613.8 L953.8,615.8 L954.1,617.7 L954.4,619.7 L954.7,621.7 L955.0,623.7 L955.2,625.7 L955.5,627.6 L955.8,629.6 L956.1,631.6 L956.4,633.6 L956.7,635.5 L957.0,637.5 L957.3,639.5 L957.6,641.5 L957.9,643.5 L958.2,645.4 L958.5,647.4 L958.8,649.4 L959.1,651.4 L959.4,653.3 L959.7,655.3 L960.0,657.3 L960.3,659.3 L960.6,661.2 L960.9,663.2 L961.2,665.2 L961.5,667.2 L961.8,669.2 L962.1,671.1 L962.4,673.1 L962.7,675.1 L963.0,677.1 L963.3,679.0 L963.6,681.0 L963.9,683.0 L964.2,685.0 L964.6,686.9 L964.9,688.9 L965.3,690.9 L965.6,692.8 L966.0,694.8 L966.3,696.8 L966.7,698.7 L967.1,700.7 L967.6,702.6 L968.0,704.6 L968.5,706.5 L969.0,708.5 L969.5,710.4 L969.9,712.4 L970.4,714.3 L970.9,716.2 L971.4,718.2 L971.9,720.1 L972.4,722.0 L973.0,724.0 L973.6,725.9 L974.1,727.8 L974.7,729.7 L975.3,731.6 L975.8,733.5 L976.3,735.5 L976.8,737.4 L977.3,739.4 L977.8,741.3 L978.2,743.2 L978.7,745.2 L979.2,747.1 L979.6,749.1 L980.1,751.0 L980.5,753.0 L981.0,754.9 L981.5,756.9 L981.9,758.8 L982.4,760.7 L982.9,762.7 L983.4,764.6 L983.8,766.6 L984.3,768.5 L984.7,770.5 L985.1,772.4 L985.5,774.4 L985.9,776.4 L986.3,778.3 L986.7,780.3 L987.2,782.2 L987.6,784.2 L988.1,786.1 L988.6,788.0 L989.1,790.0 L989.6,791.9 L990.1,793.9 L990.6,795.8 L991.2,797.7 L991.8,799.6 L992.4,801.5 L993.1,803.4 L993.7,805.3 L994.3,807.2 L994.9,809.1 L995.6,811.0 L996.3,812.9 L997.0,814.7 L997.7,816.6 L998.5,818.4 L999.2,820.3 L1000.0,822.2 L1000.7,824.0 L1001.5,825.9 L1002.2,827.7 L1003.0,829.5 L1003.9,831.3 L1004.7,833.2 L1005.6,835.0 L1006.4,836.8 L1007.3,838.6 L1008.1,840.4 L1009.0,842.2 L1009.9,844.0 L1010.8,845.8 L1011.7,847.6 L1012.6,849.3 L1013.6,851.1 L1014.5,852.9 L1015.4,854.6 L1016.4,856.4 L1017.4,858.1 L1018.4,859.8 L1019.4,861.5 L1020.5,863.2 L1021.7,864.8 L1022.8,866.5 L1024.0,868.1 L1025.1,869.8 L1026.3,871.4 L1027.5,873.0 L1028.8,874.5 L1030.1,876.0 L1031.5,877.4 L1032.9,878.8 L1034.3,880.2 L1035.8,881.6 L1037.3,882.8 L1039.0,883.9 L1040.7,884.8 L1042.5,885.6 L1044.4,886.1 L1046.3,886.5 L1048.2,886.6 L1050.2,886.9 L1052.1,887.3 L1054.0,887.9 L1055.8,888.6 L1057.5,889.6 L1059.0,890.8 L1060.3,892.2 L1061.6,893.7 L1062.7,895.3 L1063.8,897.0 L1064.8,898.7 L1065.8,900.5 L1066.7,902.3 L1067.6,904.0 L1068.5,905.8 L1069.4,907.6 L1070.3,909.4 L1071.2,911.2 L1072.1,912.9 L1073.1,914.7 L1074.0,916.5 L1075.0,918.2 L1075.9,920.0 L1076.9,921.7 L1077.9,923.5 L1079.0,925.1 L1080.1,926.8 L1081.2,928.5 L1082.4,930.1 L1083.5,931.7 L1084.8,933.3 L1086.1,934.7 L1087.5,936.1 L1089.1,937.4 L1090.6,938.6 L1092.3,939.7 L1093.9,940.8 L1095.6,941.8 L1097.4,942.8 L1099.2,943.6 L1101.0,944.4 L1102.9,945.1 L1104.8,945.7 L1106.7,946.3 L1108.6,946.9 L1110.6,947.4 L1112.5,947.9 L1114.4,948.3 L1116.4,948.6 L1118.4,948.8 L1120.4,948.9 L1122.4,949.0 L1124.4,949.1 L1126.4,949.2 L1128.4,949.3 L1130.3,949.4 L1132.3,949.5 L1134.3,949.6 L1136.3,949.7 L1138.3,949.8 L1140.3,949.9 L1142.3,950.0 L1144.3,950.1 L1146.3,950.2 L1148.3,950.3 L1150.3,950.3 L1152.3,950.4 L1154.3,950.4 L1156.3,950.3 L1158.3,950.2 L1160.3,950.1 L1162.3,950.0 L1164.3,949.9 L1166.3,949.8 L1168.3,949.7 L1170.3,949.6 L1172.3,949.5 L1174.3,949.4 L1176.3,949.3 L1178.3,949.2 L1180.3,949.1 L1182.3,949.0 L1184.3,948.9 L1186.3,948.8 L1188.3,948.8 L1190.3,948.7 L1192.3,948.6 L1194.3,948.6 L1196.3,948.6 L1198.3,948.6 L1200.3,948.6 L1202.3,948.6 L1204.3,948.6 L1206.3,948.6 L1208.2,948.7 L1210.2,949.0 L1212.1,949.4 L1214.0,949.9 L1216.0,950.5 L1217.9,951.1 L1219.8,951.7 L1221.7,952.3 L1223.6,952.9 L1225.5,953.5 L1227.4,954.0 L1229.4,954.5 L1231.3,954.9 L1233.3,955.2 L1235.2,955.3 L1237.2,955.4 L1239.2,955.4 L1241.2,955.5 L1243.2,955.5 L1245.2,955.5 L1247.2,955.6 L1249.2,955.6 L1251.2,955.6 L1253.2,955.7 L1255.2,955.7 L1257.2,955.8 L1259.2,955.8 L1261.2,955.8 L1263.2,955.9 L1265.2,955.9 L1267.2,956.0 L1269.2,956.0 L1271.2,956.0 L1273.2,956.1 L1275.2,956.1 L1277.2,956.2 L1279.2,956.2 L1281.2,956.2 L1283.2,956.3 L1285.2,956.3 L1287.2,956.3 L1289.2,956.4 L1291.2,956.4 L1293.2,956.5 L1295.2,956.5 L1297.2,956.5 L1299.2,956.6 L1301.2,956.6 L1303.2,956.7 L1305.2,956.7 L1307.2,956.7 L1309.2,956.8 L1311.2,956.8 L1313.2,956.9 L1315.2,956.9 L1317.2,956.9 L1319.2,957.0 L1321.2,957.0 L1323.2,957.0 L1325.2,957.1 L1327.1,957.1 L1328.8,957.2 L1330.0,957.2" stroke="#f20a0a" stroke-width="4.2" fill="none" stroke-linejoin="round" stroke-linecap="round"/>
<path d="M371.8,963.6 L373.0,963.6 L374.7,963.7 L376.6,963.7 L378.6,963.7 L380.6,963.7 L382.6,963.7 L384.6,963.8 L386.6,963.8 L388.6,963.8 L390.6,963.8 L392.6,963.9 L394.6,963.9 L396.6,963.9 L398.6,963.9 L400.6,964.0 L402.6,964.0 L404.6,964.0 L406.6,964.0 L408.6,964.1 L410.6,964.1 L412.6,964.1 L414.6,964.1 L416.6,964.2 L418.6,964.2 L420.6,964.2 L422.6,964.2 L424.6,964.2 L426.6,964.2 L428.6,964.2 L430.6,964.2 L432.6,964.2 L434.6,964.2 L436.6,964.2 L438.6,964.2 L440.6,964.3 L442.6,964.3 L444.6,964.3 L446.6,964.3 L448.6,964.3 L450.6,964.3 L452.6,964.3 L454.5,964.3 L456.5,964.3 L458.5,964.3 L460.5,964.3 L462.5,964.3 L464.5,964.3 L466.5,964.3 L468.5,964.3 L470.5,964.3 L472.5,964.3 L474.5,964.3 L476.5,964.3 L478.5,964.3 L480.5,964.4 L482.5,964.4 L484.5,964.4 L486.5,964.4 L488.5,964.4 L490.5,964.4 L492.5,964.4 L494.5,964.4 L496.5,964.4 L498.5,964.4 L500.5,964.4 L502.5,964.4 L504.5,964.4 L506.5,964.4 L508.5,964.4 L510.5,964.4 L512.5,964.4 L514.5,964.4 L516.5,964.4 L518.5,964.4 L520.5,964.4 L522.5,964.4 L524.5,964.4 L526.5,964.4 L528.5,964.4 L530.5,964.4 L532.5,964.4 L534.5,964.4 L536.5,964.4 L538.5,964.4 L540.5,964.4 L542.5,964.4 L544.5,964.4 L546.5,964.4 L548.5,964.4 L550.5,964.4 L552.5,964.4 L554.5,964.4 L556.5,964.4 L558.5,964.4 L560.5,964.4 L562.5,964.4 L564.5,964.4 L566.5,964.4 L568.5,964.4 L570.5,964.4 L572.5,964.4 L574.5,964.4 L576.5,964.4 L578.5,964.4 L580.5,964.4 L582.5,964.4 L584.5,964.4 L586.5,964.4 L588.5,964.4 L590.5,964.4 L592.5,964.4 L594.5,964.4 L596.5,964.4 L598.5,964.4 L600.5,964.4 L602.5,964.4 L604.5,964.4 L606.5,964.3 L608.5,964.3 L610.5,964.3 L612.5,964.3 L614.5,964.3 L616.5,964.3 L618.5,964.3 L620.5,964.2 L622.5,964.2 L624.5,964.2 L626.5,964.2 L628.5,964.2 L630.4,964.2 L632.4,964.1 L634.4,964.1 L636.4,964.1 L638.4,964.1 L640.4,964.1 L642.4,964.1 L644.4,964.0 L646.4,964.0 L648.4,964.0 L650.4,963.9 L652.4,963.8 L654.4,963.7 L656.4,963.6 L658.4,963.5 L660.4,963.4 L662.4,963.3 L664.4,963.1 L666.4,963.0 L668.4,962.9 L670.4,962.8 L672.4,962.7 L674.4,962.5 L676.4,962.4 L678.4,962.3 L680.4,962.2 L682.4,962.1 L684.4,961.9 L686.4,961.8 L688.3,961.7 L690.3,961.6 L692.3,961.5 L694.3,961.3 L696.3,961.2 L698.3,961.1 L700.3,960.9 L702.3,960.7 L704.3,960.5 L706.3,960.3 L708.3,960.0 L710.2,959.8 L712.2,959.6 L714.2,959.3 L716.2,959.1 L718.2,958.9 L720.2,958.6 L722.1,958.4 L724.1,958.1 L726.1,957.8 L728.1,957.5 L730.1,957.2 L732.0,956.9 L734.0,956.6 L736.0,956.4 L738.0,956.1 L740.0,955.8 L741.9,955.5 L743.9,955.2 L745.9,954.8 L747.8,954.4 L749.7,953.9 L751.6,953.3 L753.5,952.7 L755.4,952.0 L757.3,951.4 L759.2,950.7 L761.1,950.1 L763.0,949.4 L764.9,948.7 L766.7,948.1 L768.6,947.3 L770.5,946.6 L772.3,945.8 L774.1,945.0 L775.9,944.1 L777.7,943.3 L779.5,942.5 L781.4,941.6 L783.1,940.7 L784.9,939.7 L786.5,938.7 L788.1,937.5 L789.7,936.3 L791.3,935.0 L792.9,933.8 L794.4,932.5 L795.9,931.2 L797.4,929.8 L798.8,928.5 L800.2,927.0 L801.6,925.6 L803.0,924.2 L804.4,922.7 L805.7,921.2 L806.8,919.7 L807.9,918.0 L808.9,916.2 L809.8,914.5 L810.8,912.7 L811.7,911.0 L812.6,909.2 L813.6,907.4 L814.4,905.6 L815.2,903.8 L815.9,901.9 L816.5,900.0 L817.1,898.1 L817.6,896.2 L818.2,894.3 L818.8,892.4 L819.4,890.4 L819.9,888.5 L820.5,886.6 L821.0,884.7 L821.6,882.8 L822.0,880.8 L822.5,878.9 L822.9,876.9 L823.4,875.0 L823.8,873.0 L824.3,871.1 L824.7,869.1 L825.1,867.2 L825.6,865.2 L826.0,863.3 L826.3,861.3 L826.7,859.3 L827.0,857.4 L827.2,855.4 L827.5,853.4 L827.8,851.4 L828.1,849.4 L828.4,847.5 L828.7,845.5 L828.9,843.5 L829.2,841.5 L829.5,839.5 L829.8,837.6 L830.0,835.6 L830.3,833.6 L830.5,831.6 L830.7,829.6 L831.0,827.6 L831.2,825.7 L831.4,823.7 L831.6,821.7 L831.9,819.7 L832.1,817.7 L832.3,815.7 L832.5,813.7 L832.7,811.8 L832.9,809.8 L833.1,807.8 L833.4,805.8 L833.6,803.8 L833.8,801.8 L834.0,799.8 L834.2,797.8 L834.4,795.8 L834.6,793.9 L834.8,791.9 L835.0,789.9 L835.2,787.9 L835.4,785.9 L835.6,783.9 L835.9,781.9 L836.1,779.9 L836.3,778.0 L836.6,776.0 L836.8,774.0 L837.0,772.0 L837.3,770.0 L837.5,768.0 L837.7,766.1 L838.0,764.1 L838.2,762.1 L838.4,760.1 L838.7,758.1 L839.0,756.1 L839.4,754.2 L839.7,752.2 L840.1,750.2 L840.4,748.3 L840.8,746.3 L841.2,744.4 L841.6,742.4 L842.0,740.4 L842.4,738.5 L842.9,736.6 L843.4,734.6 L844.0,732.7 L844.5,730.8 L845.2,728.9 L846.1,727.2 L847.1,725.5 L848.2,724.1 L849.3,723.1 L850.6,722.8 L851.9,723.3 L853.2,724.4 L854.3,725.9 L855.1,727.6 L855.8,729.5 L856.4,731.4 L856.9,733.3 L857.4,735.2 L857.9,737.2 L858.3,739.1 L858.7,741.1 L859.1,743.0 L859.5,745.0 L859.9,746.9 L860.3,748.9 L860.7,750.9 L861.1,752.8 L861.5,754.8 L861.9,756.7 L862.3,758.7 L862.7,760.7 L863.0,762.6 L863.4,764.6 L863.8,766.5 L864.2,768.5 L864.6,770.5 L865.0,772.4 L865.4,774.4 L865.8,776.4 L866.1,778.3 L866.5,780.3 L866.9,782.2 L867.3,784.2 L867.7,786.2 L868.1,788.1 L868.5,790.1 L868.9,792.0 L869.3,794.0 L869.7,795.9 L870.1,797.9 L870.5,799.9 L870.9,801.8 L871.3,803.8 L871.7,805.7 L872.1,807.7 L872.5,809.7 L872.9,811.6 L873.2,813.6 L873.6,815.5 L874.0,817.5 L874.4,819.5 L874.8,821.4 L875.2,823.4 L875.6,825.3 L876.0,827.3 L876.4,829.3 L876.7,831.2 L877.1,833.2 L877.5,835.2 L877.9,837.1 L878.4,839.1 L878.8,841.0 L879.3,842.9 L879.8,844.9 L880.3,846.8 L880.8,848.8 L881.3,850.7 L881.8,852.6 L882.3,854.6 L882.7,856.5 L883.3,858.4 L883.8,860.4 L884.3,862.3 L884.9,864.2 L885.5,866.1 L886.0,868.0 L886.6,870.0 L887.2,871.9 L887.8,873.8 L888.3,875.7 L888.9,877.6 L889.5,879.5 L890.2,881.4 L890.9,883.3 L891.7,885.1 L892.4,886.9 L893.2,888.8 L894.0,890.6 L894.8,892.4 L895.7,894.3 L896.5,896.1 L897.3,897.9 L898.1,899.7 L899.0,901.5 L899.8,903.4 L900.6,905.2 L901.4,907.0 L902.2,908.8 L903.0,910.7 L903.8,912.5 L904.6,914.3 L905.5,916.1 L906.4,917.9 L907.5,919.5 L908.7,921.1 L910.0,922.6 L911.3,924.1 L912.7,925.4 L914.3,926.4 L916.1,927.1 L917.9,927.5 L919.8,927.7 L921.8,927.5 L923.7,927.1 L925.6,926.6 L927.4,926.0 L929.3,925.4 L931.3,924.9 L933.2,924.4 L935.2,924.1 L937.1,924.0 L939.0,924.1 L940.9,924.5 L942.8,925.1 L944.5,926.0 L946.2,927.0 L947.8,928.2 L949.2,929.5 L950.7,930.9 L952.1,932.3 L953.4,933.8 L954.8,935.2 L956.1,936.7 L957.5,938.2 L958.8,939.7 L960.2,941.1 L961.6,942.5 L963.1,943.8 L964.7,945.1 L966.3,946.2 L967.9,947.4 L969.6,948.5 L971.2,949.6 L973.0,950.6 L974.7,951.4 L976.6,952.3 L978.4,953.0 L980.2,953.8 L982.1,954.5 L984.0,955.2 L985.9,955.8 L987.8,956.3 L989.7,956.8 L991.7,957.2 L993.7,957.6 L995.6,958.0 L997.6,958.4 L999.5,958.8 L1001.5,959.2 L1003.5,959.5 L1005.4,959.9 L1007.4,960.2 L1009.4,960.4 L1011.4,960.7 L1013.3,960.9 L1015.3,961.1 L1017.3,961.3 L1019.3,961.5 L1021.3,961.7 L1023.3,961.9 L1025.3,962.1 L1027.3,962.3 L1029.3,962.5 L1031.2,962.7 L1033.2,962.9 L1035.2,963.0 L1037.2,963.2 L1039.2,963.3 L1041.2,963.4 L1043.2,963.5 L1045.2,963.5 L1047.2,963.5 L1049.2,963.6 L1051.2,963.6 L1053.2,963.6 L1055.2,963.7 L1057.2,963.7 L1059.2,963.7 L1061.2,963.8 L1063.2,963.8 L1065.2,963.8 L1067.2,963.9 L1069.2,963.9 L1071.2,963.9 L1073.2,964.0 L1075.2,964.0 L1077.2,964.0 L1079.2,964.1 L1081.2,964.1 L1083.2,964.1 L1085.2,964.2 L1087.2,964.2 L1089.2,964.2 L1091.2,964.3 L1093.2,964.3 L1095.2,964.3 L1097.2,964.3 L1099.2,964.4 L1101.2,964.4 L1103.2,964.4 L1105.2,964.4 L1107.2,964.4 L1109.2,964.4 L1111.2,964.4 L1113.2,964.4 L1115.2,964.4 L1117.2,964.4 L1119.2,964.4 L1121.2,964.4 L1123.1,964.4 L1125.1,964.4 L1127.1,964.4 L1129.1,964.4 L1131.1,964.4 L1133.1,964.4 L1135.1,964.4 L1137.1,964.3 L1139.1,964.3 L1141.1,964.3 L1143.1,964.3 L1145.1,964.3 L1147.1,964.3 L1149.1,964.3 L1151.1,964.3 L1153.1,964.3 L1155.1,964.3 L1157.1,964.3 L1159.1,964.3 L1161.1,964.3 L1163.1,964.3 L1165.1,964.3 L1167.1,964.3 L1169.1,964.3 L1171.1,964.3 L1173.1,964.3 L1175.1,964.2 L1177.1,964.2 L1179.1,964.1 L1181.1,964.1 L1183.1,964.0 L1185.1,964.0 L1187.1,963.9 L1189.1,963.9 L1191.1,963.8 L1193.1,963.8 L1195.1,963.8 L1197.1,963.7 L1199.1,963.7 L1201.1,963.6 L1203.1,963.6 L1205.1,963.5 L1207.1,963.5 L1209.1,963.5 L1211.1,963.5 L1213.1,963.5 L1215.1,963.6 L1217.1,963.7 L1219.1,963.8 L1221.1,963.9 L1223.1,964.0 L1225.1,964.0 L1227.1,964.1 L1229.1,964.2 L1231.1,964.3 L1233.1,964.4 L1235.1,964.5 L1237.0,964.6 L1239.0,964.7 L1241.0,964.8 L1243.0,965.0 L1245.0,965.3 L1246.9,965.8 L1248.8,966.4 L1250.7,967.1 L1252.5,967.7 L1254.4,968.5 L1256.2,969.2 L1258.1,970.0 L1259.9,970.8 L1261.7,971.6 L1263.6,972.3 L1265.5,973.0 L1267.4,973.4 L1269.3,973.7 L1271.3,974.0 L1273.3,974.2 L1275.3,974.3 L1277.3,974.5 L1279.3,974.7 L1281.3,974.9 L1283.2,975.0 L1285.2,975.2 L1287.2,975.3 L1289.2,975.4 L1291.2,975.4 L1293.2,975.5 L1295.2,975.5 L1297.2,975.5 L1299.2,975.5 L1301.2,975.5 L1303.2,975.5 L1305.2,975.6 L1307.2,975.6 L1309.2,975.6 L1311.2,975.6 L1313.2,975.6 L1315.2,975.7 L1317.2,975.7 L1319.2,975.7 L1321.2,975.7 L1323.2,975.7 L1325.2,975.7 L1327.1,975.8 L1328.8,975.8 L1330.0,975.8" stroke="#f010f0" stroke-width="4.2" fill="none" stroke-linejoin="round" stroke-linecap="round"/>
<path d="M380.8,963.5 C381.2,960.2 382.6,958.2 384.4,958.2 C388,958.8 392.5,960.8 400,962.6 L400,964 L381,964 Z" fill="#b010c8"/>
<path d="M380.8,963 C381.2,960.2 382.6,958.2 384.4,958.2 C388,958.8 392.5,960.8 400,962.6" stroke="#1a0010" stroke-width="1.6" fill="none"/>
<path d="M371.8,963.6 L373.0,963.6 L374.7,963.6 L376.6,963.7 L378.6,963.7 L380.6,963.7 L382.6,963.7 L384.6,963.7 L386.6,963.8 L388.6,963.8 L390.6,963.8 L392.6,963.8 L394.6,963.8 L396.6,963.9 L398.6,963.9 L400.6,963.9 L402.6,963.9 L404.6,963.9 L406.6,964.0 L408.6,964.0 L410.6,964.0 L412.6,964.0 L414.6,964.0 L416.6,964.1 L418.6,964.1 L420.6,964.1 L422.6,964.1 L424.6,964.1 L426.6,964.2 L428.6,964.2 L430.6,964.2 L432.6,964.2 L434.6,964.2 L436.6,964.3 L438.6,964.3 L440.6,964.3 L442.6,964.3 L444.6,964.3 L446.6,964.4 L448.6,964.4 L450.6,964.4 L452.6,964.4 L454.6,964.4 L456.6,964.4 L458.6,964.4 L460.6,964.4 L462.6,964.4 L464.6,964.4 L466.6,964.4 L468.6,964.4 L470.6,964.4 L472.6,964.4 L474.6,964.4 L476.6,964.4 L478.5,964.5 L480.5,964.5 L482.5,964.5 L484.5,964.5 L486.5,964.5 L488.5,964.5 L490.5,964.5 L492.5,964.5 L494.5,964.5 L496.5,964.5 L498.5,964.5 L500.5,964.5 L502.5,964.5 L504.5,964.5 L506.5,964.5 L508.5,964.5 L510.5,964.5 L512.5,964.5 L514.5,964.5 L516.5,964.5 L518.5,964.5 L520.5,964.5 L522.5,964.5 L524.5,964.5 L526.5,964.5 L528.5,964.5 L530.5,964.5 L532.5,964.6 L534.5,964.6 L536.5,964.6 L538.5,964.6 L540.5,964.6 L542.5,964.6 L544.5,964.6 L546.5,964.6 L548.5,964.6 L550.5,964.6 L552.5,964.6 L554.5,964.6 L556.5,964.6 L558.5,964.6 L560.5,964.6 L562.5,964.6 L564.5,964.6 L566.5,964.6 L568.5,964.6 L570.5,964.6 L572.5,964.6 L574.5,964.6 L576.5,964.6 L578.5,964.6 L580.5,964.6 L582.5,964.6 L584.5,964.6 L586.5,964.6 L588.5,964.6 L590.5,964.6 L592.5,964.6 L594.5,964.6 L596.5,964.5 L598.5,964.5 L600.5,964.5 L602.5,964.5 L604.5,964.5 L606.5,964.5 L608.5,964.5 L610.5,964.5 L612.5,964.5 L614.5,964.5 L616.5,964.5 L618.5,964.5 L620.5,964.5 L622.5,964.5 L624.5,964.5 L626.5,964.5 L628.5,964.5 L630.5,964.5 L632.5,964.5 L634.5,964.5 L636.5,964.5 L638.5,964.5 L640.5,964.5 L642.5,964.5 L644.5,964.5 L646.5,964.5 L648.5,964.5 L650.5,964.5 L652.5,964.5 L654.5,964.5 L656.5,964.5 L658.5,964.5 L660.5,964.5 L662.5,964.5 L664.5,964.5 L666.5,964.4 L668.5,964.4 L670.5,964.4 L672.5,964.4 L674.5,964.4 L676.5,964.4 L678.5,964.4 L680.5,964.4 L682.5,964.4 L684.5,964.4 L686.5,964.4 L688.5,964.4 L690.5,964.4 L692.5,964.4 L694.5,964.4 L696.5,964.4 L698.5,964.4 L700.5,964.4 L702.5,964.3 L704.5,964.3 L706.5,964.2 L708.4,964.2 L710.4,964.2 L712.4,964.1 L714.4,964.1 L716.4,964.0 L718.4,964.0 L720.4,963.9 L722.4,963.9 L724.4,963.8 L726.4,963.8 L728.4,963.7 L730.4,963.7 L732.4,963.6 L734.4,963.6 L736.4,963.5 L738.4,963.5 L740.4,963.4 L742.4,963.3 L744.4,963.0 L746.4,962.8 L748.3,962.5 L750.3,962.2 L752.3,961.8 L754.3,961.5 L756.2,961.2 L758.2,960.9 L760.2,960.6 L762.2,960.2 L764.1,959.9 L766.1,959.6 L768.0,959.2 L770.0,958.6 L771.9,958.0 L773.7,957.3 L775.6,956.6 L777.4,955.9 L779.3,955.1 L781.2,954.4 L783.0,953.6 L784.9,952.9 L786.7,952.1 L788.5,951.3 L790.3,950.5 L792.1,949.5 L793.8,948.4 L795.4,947.4 L797.1,946.3 L798.8,945.1 L800.4,944.0 L802.1,942.9 L803.7,941.8 L805.4,940.7 L807.0,939.5 L808.6,938.3 L810.2,937.0 L811.7,935.8 L813.3,934.5 L814.9,933.3 L816.4,932.1 L818.0,930.8 L819.5,929.5 L821.1,928.3 L822.6,927.0 L824.0,925.6 L825.5,924.2 L826.9,922.8 L828.3,921.4 L829.7,920.0 L831.2,918.6 L832.6,917.2 L834.0,915.7 L835.3,914.3 L836.5,912.7 L837.5,911.0 L838.5,909.3 L839.4,907.5 L840.3,905.7 L841.1,903.9 L842.0,902.1 L842.9,900.3 L843.8,898.5 L844.7,896.7 L845.6,894.9 L846.4,893.1 L847.1,891.3 L847.8,889.4 L848.4,887.5 L849.0,885.6 L849.6,883.7 L850.1,881.8 L850.7,879.9 L851.3,877.9 L851.9,876.0 L852.4,874.1 L853.0,872.2 L853.5,870.3 L854.0,868.3 L854.4,866.4 L854.8,864.4 L855.3,862.5 L855.7,860.5 L856.1,858.5 L856.5,856.6 L856.9,854.6 L857.4,852.7 L857.8,850.7 L858.2,848.8 L858.6,846.8 L859.0,844.9 L859.3,842.9 L859.7,840.9 L860.0,839.0 L860.4,837.0 L860.7,835.0 L861.1,833.0 L861.4,831.1 L861.8,829.1 L862.1,827.1 L862.4,825.2 L862.8,823.2 L863.1,821.2 L863.4,819.2 L863.7,817.3 L864.1,815.3 L864.4,813.3 L864.7,811.4 L865.0,809.4 L865.3,807.4 L865.6,805.4 L865.9,803.5 L866.2,801.5 L866.5,799.5 L866.7,797.5 L867.0,795.5 L867.3,793.6 L867.5,791.6 L867.8,789.6 L868.1,787.6 L868.4,785.6 L868.6,783.6 L868.9,781.7 L869.1,779.7 L869.4,777.7 L869.7,775.7 L869.9,773.7 L870.2,771.8 L870.4,769.8 L870.7,767.8 L871.0,765.8 L871.3,763.8 L871.6,761.9 L871.9,759.9 L872.2,757.9 L872.5,755.9 L872.8,754.0 L873.2,752.0 L873.5,750.0 L873.8,748.0 L874.2,746.1 L874.5,744.1 L874.9,742.1 L875.2,740.2 L875.6,738.2 L876.0,736.3 L876.4,734.3 L876.9,732.4 L877.4,730.4 L877.9,728.5 L878.5,726.6 L879.1,724.8 L880.0,723.2 L881.0,722.0 L882.1,721.6 L883.3,722.1 L884.3,723.3 L885.2,724.9 L886.0,726.6 L886.8,728.5 L887.4,730.4 L888.0,732.3 L888.5,734.2 L889.0,736.1 L889.4,738.1 L889.9,740.0 L890.3,742.0 L890.7,744.0 L891.1,745.9 L891.5,747.9 L891.9,749.8 L892.3,751.8 L892.7,753.7 L893.1,755.7 L893.5,757.7 L893.9,759.6 L894.3,761.6 L894.7,763.5 L895.0,765.5 L895.3,767.5 L895.6,769.5 L895.9,771.4 L896.2,773.4 L896.5,775.4 L896.8,777.4 L897.1,779.3 L897.4,781.3 L897.7,783.3 L898.0,785.3 L898.3,787.3 L898.6,789.2 L899.0,791.2 L899.3,793.2 L899.6,795.1 L899.9,797.1 L900.3,799.1 L900.6,801.1 L900.9,803.0 L901.2,805.0 L901.5,807.0 L901.9,809.0 L902.2,810.9 L902.5,812.9 L902.8,814.9 L903.1,816.9 L903.4,818.8 L903.7,820.8 L904.0,822.8 L904.3,824.8 L904.6,826.7 L905.0,828.7 L905.3,830.7 L905.6,832.6 L906.0,834.6 L906.3,836.6 L906.6,838.6 L907.0,840.5 L907.3,842.5 L907.7,844.5 L908.0,846.4 L908.4,848.4 L908.7,850.4 L909.0,852.3 L909.4,854.3 L909.7,856.3 L910.1,858.3 L910.4,860.2 L910.8,862.2 L911.2,864.2 L911.5,866.1 L911.9,868.1 L912.2,870.1 L912.6,872.0 L912.9,874.0 L913.3,876.0 L913.7,877.9 L914.1,879.9 L914.4,881.8 L914.8,883.8 L915.2,885.8 L915.6,887.7 L916.0,889.7 L916.5,891.6 L916.9,893.6 L917.4,895.5 L917.9,897.4 L918.4,899.4 L919.0,901.3 L919.7,903.2 L920.4,905.0 L921.2,906.8 L922.0,908.7 L922.9,910.5 L923.7,912.3 L924.6,914.1 L925.5,915.9 L926.4,917.6 L927.4,919.4 L928.4,921.1 L929.5,922.8 L930.6,924.4 L931.7,926.1 L932.8,927.8 L933.9,929.4 L935.0,931.1 L936.2,932.7 L937.4,934.3 L938.7,935.7 L940.2,937.1 L941.6,938.5 L943.1,939.8 L944.6,941.1 L946.1,942.4 L947.7,943.5 L949.4,944.5 L951.2,945.4 L953.0,946.2 L954.9,947.0 L956.7,947.7 L958.6,948.4 L960.5,949.2 L962.3,949.8 L964.2,950.4 L966.2,951.0 L968.1,951.4 L970.1,951.8 L972.0,952.2 L974.0,952.6 L976.0,953.0 L977.9,953.3 L979.9,953.7 L981.8,954.1 L983.8,954.5 L985.8,954.8 L987.7,955.1 L989.7,955.4 L991.7,955.7 L993.7,955.9 L995.7,956.2 L997.7,956.5 L999.6,956.7 L1001.6,957.0 L1003.6,957.3 L1005.6,957.5 L1007.6,957.8 L1009.5,958.1 L1011.5,958.3 L1013.5,958.6 L1015.5,958.8 L1017.5,959.0 L1019.5,959.2 L1021.5,959.4 L1023.4,959.6 L1025.4,959.7 L1027.4,959.9 L1029.4,960.0 L1031.4,960.2 L1033.4,960.3 L1035.4,960.5 L1037.4,960.6 L1039.4,960.8 L1041.4,960.9 L1043.4,961.1 L1045.4,961.2 L1047.4,961.4 L1049.4,961.5 L1051.4,961.7 L1053.3,961.8 L1055.3,962.0 L1057.3,962.1 L1059.3,962.2 L1061.3,962.3 L1063.3,962.4 L1065.3,962.4 L1067.3,962.5 L1069.3,962.6 L1071.3,962.6 L1073.3,962.7 L1075.3,962.7 L1077.3,962.8 L1079.3,962.8 L1081.3,962.9 L1083.3,962.9 L1085.3,963.0 L1087.3,963.1 L1089.3,963.1 L1091.3,963.2 L1093.3,963.2 L1095.3,963.3 L1097.3,963.3 L1099.3,963.4 L1101.3,963.4 L1103.3,963.4 L1105.3,963.5 L1107.3,963.5 L1109.3,963.5 L1111.3,963.5 L1113.3,963.5 L1115.3,963.5 L1117.3,963.6 L1119.3,963.6 L1121.3,963.6 L1123.3,963.6 L1125.3,963.6 L1127.3,963.7 L1129.3,963.7 L1131.3,963.7 L1133.3,963.7 L1135.3,963.7 L1137.3,963.8 L1139.3,963.8 L1141.3,963.8 L1143.3,963.8 L1145.3,963.8 L1147.3,963.9 L1149.3,963.9 L1151.3,963.9 L1153.3,963.9 L1155.3,963.9 L1157.3,964.0 L1159.3,964.0 L1161.3,964.0 L1163.3,964.0 L1165.3,964.0 L1167.3,964.1 L1169.3,964.1 L1171.3,964.1 L1173.3,964.0 L1175.3,964.0 L1177.3,963.9 L1179.3,963.9 L1181.3,963.8 L1183.3,963.8 L1185.3,963.7 L1187.2,963.7 L1189.2,963.6 L1191.2,963.5 L1193.2,963.5 L1195.2,963.4 L1197.2,963.4 L1199.2,963.3 L1201.2,963.3 L1203.2,963.2 L1205.2,963.1 L1207.2,963.1 L1209.2,963.1 L1211.2,963.1 L1213.2,963.2 L1215.2,963.3 L1217.2,963.4 L1219.2,963.5 L1221.2,963.6 L1223.2,963.7 L1225.2,963.8 L1227.2,963.9 L1229.2,964.0 L1231.2,964.2 L1233.2,964.3 L1235.2,964.4 L1237.2,964.5 L1239.2,964.6 L1241.2,964.8 L1243.1,965.0 L1245.1,965.4 L1247.0,965.9 L1248.8,966.6 L1250.7,967.4 L1252.5,968.1 L1254.4,968.8 L1256.3,969.4 L1258.2,970.0 L1260.1,970.4 L1262.1,970.8 L1264.0,971.0 L1266.0,971.1 L1267.9,971.0 L1269.9,970.6 L1271.9,970.2 L1273.8,969.8 L1275.7,969.4 L1277.7,968.9 L1279.6,968.5 L1281.6,968.0 L1283.5,967.6 L1285.5,967.2 L1287.5,966.8 L1289.4,966.5 L1291.4,966.1 L1293.4,965.8 L1295.4,965.5 L1297.3,965.2 L1299.3,964.9 L1301.3,964.7 L1303.3,964.4 L1305.2,964.2 L1307.2,964.1 L1309.2,964.1 L1311.2,964.1 L1313.2,964.2 L1315.2,964.3 L1317.2,964.3 L1319.2,964.4 L1321.2,964.5 L1323.2,964.6 L1325.2,964.7 L1327.1,964.7 L1328.8,964.8 L1330.0,964.9" stroke="#0a14e2" stroke-width="4.2" fill="none" stroke-linejoin="round" stroke-linecap="round"/>
<rect x="917.5" y="36.6" width="112.1" height="8.6" fill="#f010f0"/>
<rect x="917.5" y="83.1" width="112.1" height="8.6" fill="#0a14e2"/>
<rect x="917.5" y="134.0" width="112.1" height="8.6" fill="#000"/>
<rect x="917.5" y="180.4" width="112.1" height="8.6" fill="#f20a0a"/>
<text x="1041.41" y="57.70" font-family='"Liberation Sans", Arial, sans-serif' font-weight="bold" font-size="39.20" fill="#000" textLength="208.50" lengthAdjust="spacingAndGlyphs">Vif<tspan font-family="FreeSans, 'Liberation Sans', sans-serif">1</tspan>76–A3F</text>
<text x="1250.96" y="67.30" font-family='"Liberation Sans", Arial, sans-serif' font-weight="bold" font-size="26.50" fill="#000" textLength="76.41" lengthAdjust="spacingAndGlyphs">CTDm</text>
<text x="1328.44" y="57.70" font-family='"Liberation Sans", Arial, sans-serif' font-weight="bold" font-size="39.20" fill="#000" textLength="237.91" lengthAdjust="spacingAndGlyphs">-40-CBFβ<tspan font-family="FreeSans, 'Liberation Sans', sans-serif">1</tspan>87</text>
<text x="1042.01" y="105.00" font-family='"Liberation Sans", Arial, sans-serif' font-weight="bold" font-size="39.20" fill="#000" textLength="310.80" lengthAdjust="spacingAndGlyphs">Vif<tspan font-weight="normal">Δ</tspan><tspan font-family="FreeSans, 'Liberation Sans', sans-serif">1</tspan><tspan font-family="FreeSans, 'Liberation Sans', sans-serif">1</tspan>4-<tspan font-family="FreeSans, 'Liberation Sans', sans-serif">1</tspan>57–A3F</text>
<text x="1353.05" y="114.30" font-family='"Liberation Sans", Arial, sans-serif' font-weight="bold" font-size="26.50" fill="#000" textLength="77.13" lengthAdjust="spacingAndGlyphs">CTDm</text>
<text x="1430.73" y="105.00" font-family='"Liberation Sans", Arial, sans-serif' font-weight="bold" font-size="39.20" fill="#000" textLength="240.56" lengthAdjust="spacingAndGlyphs">-40-CBFβ<tspan font-family="FreeSans, 'Liberation Sans', sans-serif">1</tspan>5<tspan font-family="FreeSans, 'Liberation Sans', sans-serif">1</tspan></text>
<text x="1042.01" y="151.70" font-family='"Liberation Sans", Arial, sans-serif' font-weight="bold" font-size="39.20" fill="#000" textLength="408.26" lengthAdjust="spacingAndGlyphs">Vif<tspan font-weight="normal">Δ</tspan><tspan font-family="FreeSans, 'Liberation Sans', sans-serif">1</tspan><tspan font-family="FreeSans, 'Liberation Sans', sans-serif">1</tspan>4-<tspan font-family="FreeSans, 'Liberation Sans', sans-serif">1</tspan>57–CBFβ<tspan font-family="FreeSans, 'Liberation Sans', sans-serif">1</tspan>5<tspan font-family="FreeSans, 'Liberation Sans', sans-serif">1</tspan></text>
<text x="1461.59" y="151.70" font-family='"Liberation Sans", Arial, sans-serif' font-weight="bold" font-size="39.20" fill="#000" textLength="23.48" lengthAdjust="spacingAndGlyphs">+</text>
<text x="1496.37" y="151.70" font-family='"Liberation Sans", Arial, sans-serif' font-weight="bold" font-size="39.20" fill="#000" textLength="70.51" lengthAdjust="spacingAndGlyphs">A3F</text>
<text x="1567.75" y="161.20" font-family='"Liberation Sans", Arial, sans-serif' font-weight="bold" font-size="26.50" fill="#000" textLength="77.34" lengthAdjust="spacingAndGlyphs">CTDm</text>
<text x="1655.51" y="151.70" font-family='"Liberation Sans", Arial, sans-serif' font-weight="bold" font-size="39.20" fill="#000">,</text>
<text x="1678.92" y="151.70" font-family='"Liberation Sans", Arial, sans-serif' font-weight="bold" font-size="39.20" fill="#000" textLength="262.45" lengthAdjust="spacingAndGlyphs">22 µM loading</text>
<text x="1042.01" y="200.70" font-family='"Liberation Sans", Arial, sans-serif' font-weight="bold" font-size="39.20" fill="#000" textLength="408.26" lengthAdjust="spacingAndGlyphs">Vif<tspan font-weight="normal">Δ</tspan><tspan font-family="FreeSans, 'Liberation Sans', sans-serif">1</tspan><tspan font-family="FreeSans, 'Liberation Sans', sans-serif">1</tspan>4-<tspan font-family="FreeSans, 'Liberation Sans', sans-serif">1</tspan>57–CBFβ<tspan font-family="FreeSans, 'Liberation Sans', sans-serif">1</tspan>5<tspan font-family="FreeSans, 'Liberation Sans', sans-serif">1</tspan></text>
<text x="1462.19" y="200.70" font-family='"Liberation Sans", Arial, sans-serif' font-weight="bold" font-size="39.20" fill="#000" textLength="23.48" lengthAdjust="spacingAndGlyphs">+</text>
<text x="1497.07" y="200.70" font-family='"Liberation Sans", Arial, sans-serif' font-weight="bold" font-size="39.20" fill="#000" textLength="70.51" lengthAdjust="spacingAndGlyphs">A3F</text>
<text x="1568.74" y="210.20" font-family='"Liberation Sans", Arial, sans-serif' font-weight="bold" font-size="26.50" fill="#000" textLength="77.96" lengthAdjust="spacingAndGlyphs">CTDm</text>
<text x="1657.51" y="200.70" font-family='"Liberation Sans", Arial, sans-serif' font-weight="bold" font-size="39.20" fill="#000">,</text>
<text x="1679.62" y="200.70" font-family='"Liberation Sans", Arial, sans-serif' font-weight="bold" font-size="39.20" fill="#000" textLength="285.10" lengthAdjust="spacingAndGlyphs"><tspan font-family="FreeSans, 'Liberation Sans', sans-serif">1</tspan>46 µM loading</text>
<text x="-3.81" y="1082.60" font-family='"Liberation Sans", Arial, sans-serif' font-weight="bold" font-size="53.50" fill="#000" textLength="35.80" lengthAdjust="spacingAndGlyphs">b</text>
<text x="6.03" y="1168.70" font-family='"Liberation Sans", Arial, sans-serif' font-weight="normal" font-size="43.00" fill="#000" textLength="94.87" lengthAdjust="spacingAndGlyphs">mAU</text>
<path d="M115.1,1157.0 V2044.4" stroke="#000" stroke-width="3.3" fill="none"/>
<path d="M97,2020.3 H115" stroke="#000" stroke-width="3.3"/>
<text x="66.44" y="2029.50" font-family='"Liberation Sans", Arial, sans-serif' font-weight="normal" font-size="34.30" fill="#000">0</text>
<path d="M106,1974.9 H115" stroke="#000" stroke-width="3.3"/>
<path d="M97,1929.6 H115" stroke="#000" stroke-width="3.3"/>
<text x="28.36" y="1938.78" font-family='"Liberation Sans", Arial, sans-serif' font-weight="normal" font-size="34.30" fill="#000">200</text>
<path d="M106,1884.2 H115" stroke="#000" stroke-width="3.3"/>
<path d="M97,1838.9 H115" stroke="#000" stroke-width="3.3"/>
<text x="28.36" y="1848.06" font-family='"Liberation Sans", Arial, sans-serif' font-weight="normal" font-size="34.30" fill="#000">400</text>
<path d="M106,1793.5 H115" stroke="#000" stroke-width="3.3"/>
<path d="M97,1748.1 H115" stroke="#000" stroke-width="3.3"/>
<text x="28.36" y="1757.34" font-family='"Liberation Sans", Arial, sans-serif' font-weight="normal" font-size="34.30" fill="#000">600</text>
<path d="M106,1702.8 H115" stroke="#000" stroke-width="3.3"/>
<path d="M97,1657.4 H115" stroke="#000" stroke-width="3.3"/>
<text x="28.36" y="1666.62" font-family='"Liberation Sans", Arial, sans-serif' font-weight="normal" font-size="34.30" fill="#000">800</text>
<path d="M106,1612.1 H115" stroke="#000" stroke-width="3.3"/>
<path d="M97,1566.7 H115" stroke="#000" stroke-width="3.3"/>
<text x="9.15" y="1575.90" font-family='"Liberation Sans", Arial, sans-serif' font-weight="normal" font-size="34.30" fill="#000"><tspan font-family="FreeSans, 'Liberation Sans', sans-serif">1</tspan>000</text>
<path d="M106,1521.3 H115" stroke="#000" stroke-width="3.3"/>
<path d="M97,1476.0 H115" stroke="#000" stroke-width="3.3"/>
<text x="9.15" y="1485.18" font-family='"Liberation Sans", Arial, sans-serif' font-weight="normal" font-size="34.30" fill="#000"><tspan font-family="FreeSans, 'Liberation Sans', sans-serif">1</tspan>200</text>
<path d="M106,1430.6 H115" stroke="#000" stroke-width="3.3"/>
<path d="M97,1385.3 H115" stroke="#000" stroke-width="3.3"/>
<text x="9.15" y="1394.46" font-family='"Liberation Sans", Arial, sans-serif' font-weight="normal" font-size="34.30" fill="#000"><tspan font-family="FreeSans, 'Liberation Sans', sans-serif">1</tspan>400</text>
<path d="M106,1339.9 H115" stroke="#000" stroke-width="3.3"/>
<path d="M97,1294.5 H115" stroke="#000" stroke-width="3.3"/>
<text x="9.15" y="1303.74" font-family='"Liberation Sans", Arial, sans-serif' font-weight="normal" font-size="34.30" fill="#000"><tspan font-family="FreeSans, 'Liberation Sans', sans-serif">1</tspan>600</text>
<path d="M106,1249.2 H115" stroke="#000" stroke-width="3.3"/>
<path d="M97,1203.8 H115" stroke="#000" stroke-width="3.3"/>
<text x="9.15" y="1213.02" font-family='"Liberation Sans", Arial, sans-serif' font-weight="normal" font-size="34.30" fill="#000"><tspan font-family="FreeSans, 'Liberation Sans', sans-serif">1</tspan>800</text>
<path d="M106,1158.5 H115" stroke="#000" stroke-width="3.3"/>
<path d="M113.5,2042.8 H1213" stroke="#000" stroke-width="3.3"/>
<path d="M157.4,2042.8 V2060.4" stroke="#000" stroke-width="3.3"/>
<text x="147.80" y="2098.70" font-family='"Liberation Sans", Arial, sans-serif' font-weight="normal" font-size="34.30" fill="#000">6</text>
<path d="M241.8,2042.8 V2053" stroke="#000" stroke-width="3.3"/>
<path d="M326.2,2042.8 V2060.4" stroke="#000" stroke-width="3.3"/>
<text x="316.58" y="2098.70" font-family='"Liberation Sans", Arial, sans-serif' font-weight="normal" font-size="34.30" fill="#000">8</text>
<path d="M410.6,2042.8 V2053" stroke="#000" stroke-width="3.3"/>
<path d="M495.0,2042.8 V2060.4" stroke="#000" stroke-width="3.3"/>
<text x="474.89" y="2098.70" font-family='"Liberation Sans", Arial, sans-serif' font-weight="normal" font-size="34.30" fill="#000"><tspan font-family="FreeSans, 'Liberation Sans', sans-serif">1</tspan>0</text>
<path d="M579.4,2042.8 V2053" stroke="#000" stroke-width="3.3"/>
<path d="M663.7,2042.8 V2060.4" stroke="#000" stroke-width="3.3"/>
<text x="643.85" y="2098.70" font-family='"Liberation Sans", Arial, sans-serif' font-weight="normal" font-size="34.30" fill="#000"><tspan font-family="FreeSans, 'Liberation Sans', sans-serif">1</tspan>2</text>
<path d="M748.1,2042.8 V2053" stroke="#000" stroke-width="3.3"/>
<path d="M832.5,2042.8 V2060.4" stroke="#000" stroke-width="3.3"/>
<text x="812.28" y="2098.70" font-family='"Liberation Sans", Arial, sans-serif' font-weight="normal" font-size="34.30" fill="#000"><tspan font-family="FreeSans, 'Liberation Sans', sans-serif">1</tspan>4</text>
<path d="M916.9,2042.8 V2053" stroke="#000" stroke-width="3.3"/>
<path d="M1001.3,2042.8 V2060.4" stroke="#000" stroke-width="3.3"/>
<text x="981.32" y="2098.70" font-family='"Liberation Sans", Arial, sans-serif' font-weight="normal" font-size="34.30" fill="#000"><tspan font-family="FreeSans, 'Liberation Sans', sans-serif">1</tspan>6</text>
<path d="M1085.7,2042.8 V2053" stroke="#000" stroke-width="3.3"/>
<path d="M1170.1,2042.8 V2060.4" stroke="#000" stroke-width="3.3"/>
<text x="1150.01" y="2098.70" font-family='"Liberation Sans", Arial, sans-serif' font-weight="normal" font-size="34.30" fill="#000"><tspan font-family="FreeSans, 'Liberation Sans', sans-serif">1</tspan>8</text>
<text x="1204.78" y="2098.50" font-family='"Liberation Sans", Arial, sans-serif' font-weight="normal" font-size="43.00" fill="#000" textLength="58.04" lengthAdjust="spacingAndGlyphs">mL</text>
<g clip-path="url(#gelclip)"><rect x="306.3" y="1319.1" width="261.7" height="488.1" fill="#bfbfbf"/><rect x="306.3" y="1319.1" width="261.7" height="488.1" filter="url(#noise)" opacity="0.10"/><rect x="306.3" y="1319.1" width="261.7" height="160.8" fill="url(#gtop)" opacity="0.5"/><ellipse cx="338.5" cy="1424.0" rx="21.6" ry="9.5" fill="#555" opacity="0.35" filter="url(#b6)"/><ellipse cx="338.5" cy="1430.0" rx="27.0" ry="9.5" fill="#262626" opacity="1.00" filter="url(#b3)"/><ellipse cx="404.3" cy="1426.0" rx="25.6" ry="18.0" fill="#555" opacity="0.35" filter="url(#b6)"/><ellipse cx="404.3" cy="1432.0" rx="32.0" ry="18.0" fill="#262626" opacity="1.00" filter="url(#b3)"/><ellipse cx="470.0" cy="1424.0" rx="25.6" ry="17.0" fill="#555" opacity="0.35" filter="url(#b6)"/><ellipse cx="470.0" cy="1430.0" rx="32.0" ry="17.0" fill="#262626" opacity="1.00" filter="url(#b3)"/><ellipse cx="534.5" cy="1420.0" rx="23.2" ry="13.5" fill="#555" opacity="0.35" filter="url(#b6)"/><ellipse cx="534.5" cy="1426.0" rx="29.0" ry="13.5" fill="#262626" opacity="1.00" filter="url(#b3)"/><ellipse cx="340.5" cy="1544.0" rx="29.8" ry="18.9" fill="#505050" opacity="0.45" filter="url(#b6)"/><ellipse cx="340.5" cy="1558.0" rx="35.0" ry="21.0" fill="#262626" opacity="1.00" filter="url(#b3)"/><ellipse cx="408.5" cy="1544.0" rx="29.3" ry="20.7" fill="#505050" opacity="0.45" filter="url(#b6)"/><ellipse cx="408.5" cy="1558.0" rx="34.5" ry="23.0" fill="#262626" opacity="1.00" filter="url(#b3)"/><ellipse cx="472.5" cy="1540.0" rx="27.2" ry="17.6" fill="#505050" opacity="0.45" filter="url(#b6)"/><ellipse cx="472.5" cy="1554.0" rx="32.0" ry="19.5" fill="#262626" opacity="1.00" filter="url(#b3)"/><ellipse cx="537.5" cy="1536.0" rx="25.1" ry="13.5" fill="#505050" opacity="0.45" filter="url(#b6)"/><ellipse cx="537.5" cy="1550.0" rx="29.5" ry="15.0" fill="#262626" opacity="0.85" filter="url(#b3)"/><ellipse cx="338.0" cy="1702.0" rx="24.8" ry="15.8" fill="#444" opacity="0.45" filter="url(#b6)"/><ellipse cx="338.0" cy="1714.0" rx="31.0" ry="17.5" fill="#262626" opacity="1.00" filter="url(#b3)"/><ellipse cx="403.0" cy="1701.0" rx="25.6" ry="17.6" fill="#444" opacity="0.45" filter="url(#b6)"/><ellipse cx="403.0" cy="1713.0" rx="32.0" ry="19.5" fill="#262626" opacity="1.00" filter="url(#b3)"/><ellipse cx="467.0" cy="1701.0" rx="24.8" ry="14.4" fill="#444" opacity="0.45" filter="url(#b6)"/><ellipse cx="467.0" cy="1713.0" rx="31.0" ry="16.0" fill="#262626" opacity="1.00" filter="url(#b3)"/><ellipse cx="532.0" cy="1701.0" rx="24.0" ry="10.3" fill="#444" opacity="0.45" filter="url(#b6)"/><ellipse cx="532.0" cy="1713.0" rx="30.0" ry="11.5" fill="#262626" opacity="1.00" filter="url(#b3)"/><ellipse cx="339.0" cy="1748.0" rx="27.0" ry="13.5" fill="#2c2c2c" opacity="1.00" filter="url(#b3)"/><ellipse cx="402.0" cy="1752.0" rx="31.0" ry="17.5" fill="#2c2c2c" opacity="1.00" filter="url(#b3)"/><ellipse cx="466.0" cy="1750.0" rx="31.0" ry="17.5" fill="#2c2c2c" opacity="1.00" filter="url(#b3)"/><ellipse cx="530.0" cy="1746.0" rx="30.0" ry="14.5" fill="#2c2c2c" opacity="1.00" filter="url(#b3)"/></g>
<rect x="306.3" y="1319.1" width="261.7" height="488.1" fill="none" stroke="#000" stroke-width="2.6"/>
<path d="M306.3,1479.9 H568 M306.3,1643.7 H568" stroke="#000" stroke-width="2.6"/>
<text x="151.49" y="1435.20" font-family='"Liberation Sans", Arial, sans-serif' font-weight="bold" font-size="36.50" fill="#000">A3F</text>
<text x="222.10" y="1443.90" font-family='"Liberation Sans", Arial, sans-serif' font-weight="bold" font-size="21.50" fill="#000" textLength="73.30" lengthAdjust="spacingAndGlyphs">CTDm</text>
<text x="196.81" y="1560.50" font-family='"Liberation Sans", Arial, sans-serif' font-weight="bold" font-size="36.50" fill="#000" textLength="99.63" lengthAdjust="spacingAndGlyphs">CBFβ</text>
<text x="199.31" y="1715.60" font-family='"Liberation Sans", Arial, sans-serif' font-weight="bold" font-size="36.50" fill="#000" textLength="99.63" lengthAdjust="spacingAndGlyphs">CBFβ</text>
<text x="148.99" y="1759.00" font-family='"Liberation Sans", Arial, sans-serif' font-weight="bold" font-size="36.50" fill="#000">A3F</text>
<text x="219.59" y="1767.70" font-family='"Liberation Sans", Arial, sans-serif' font-weight="bold" font-size="21.50" fill="#000" textLength="74.65" lengthAdjust="spacingAndGlyphs">CTDm</text>
<path d="M116.2,2020.3 L117.4,2020.3 L119.1,2020.3 L121.0,2020.3 L123.0,2020.3 L125.0,2020.3 L127.0,2020.3 L129.0,2020.3 L131.0,2020.3 L133.0,2020.3 L135.0,2020.3 L137.0,2020.3 L139.0,2020.3 L141.0,2020.3 L143.0,2020.3 L145.0,2020.3 L147.0,2020.3 L149.0,2020.3 L151.0,2020.3 L153.0,2020.3 L155.0,2020.3 L157.0,2020.3 L159.0,2020.3 L161.0,2020.3 L163.0,2020.3 L165.0,2020.3 L167.0,2020.3 L169.0,2020.3 L171.0,2020.3 L173.0,2020.3 L175.0,2020.3 L177.0,2020.3 L179.0,2020.3 L181.0,2020.3 L183.0,2020.3 L185.0,2020.3 L187.0,2020.3 L189.0,2020.3 L191.0,2020.3 L193.0,2020.3 L195.0,2020.3 L197.0,2020.3 L199.0,2020.3 L201.0,2020.3 L203.0,2020.3 L205.0,2020.3 L207.0,2020.3 L209.0,2020.4 L211.0,2020.4 L213.0,2020.4 L215.0,2020.4 L217.0,2020.4 L219.0,2020.4 L220.9,2020.4 L222.9,2020.4 L224.9,2020.4 L226.9,2020.4 L228.9,2020.4 L230.9,2020.4 L232.9,2020.4 L234.9,2020.4 L236.9,2020.4 L238.9,2020.4 L240.9,2020.4 L242.9,2020.4 L244.9,2020.4 L246.9,2020.4 L248.9,2020.4 L250.9,2020.4 L252.9,2020.4 L254.9,2020.4 L256.9,2020.4 L258.9,2020.4 L260.9,2020.4 L262.9,2020.4 L264.9,2020.4 L266.9,2020.4 L268.9,2020.4 L270.9,2020.4 L272.9,2020.4 L274.9,2020.4 L276.9,2020.4 L278.9,2020.4 L280.9,2020.4 L282.9,2020.4 L284.9,2020.4 L286.9,2020.4 L288.9,2020.4 L290.9,2020.4 L292.9,2020.4 L294.9,2020.4 L296.9,2020.4 L298.9,2020.4 L300.9,2020.4 L302.9,2020.4 L304.9,2020.4 L306.9,2020.4 L308.9,2020.4 L310.9,2020.4 L312.9,2020.3 L314.9,2020.3 L316.9,2020.3 L318.9,2020.3 L320.9,2020.3 L322.9,2020.3 L324.9,2020.3 L326.9,2020.3 L328.9,2020.3 L330.9,2020.3 L332.9,2020.3 L334.9,2020.3 L336.9,2020.3 L338.9,2020.2 L340.9,2020.2 L342.9,2020.2 L344.9,2020.2 L346.9,2020.2 L348.9,2020.2 L350.9,2020.2 L352.9,2020.2 L354.9,2020.2 L356.9,2020.2 L358.9,2020.2 L360.9,2020.2 L362.9,2020.1 L364.9,2020.1 L366.9,2020.1 L368.9,2020.1 L370.9,2020.1 L372.9,2020.1 L374.9,2020.1 L376.9,2020.1 L378.9,2020.1 L380.9,2020.1 L382.9,2020.1 L384.9,2020.1 L386.9,2020.1 L388.9,2020.0 L390.9,2020.0 L392.9,2020.0 L394.9,2020.0 L396.9,2020.0 L398.9,2020.0 L400.9,2020.0 L402.9,2020.0 L404.9,2020.0 L406.9,2020.0 L408.9,2020.0 L410.9,2020.0 L412.9,2019.9 L414.9,2019.9 L416.9,2019.9 L418.9,2019.9 L420.9,2019.9 L422.9,2019.9 L424.9,2019.9 L426.9,2019.9 L428.8,2019.9 L430.8,2019.9 L432.8,2019.9 L434.8,2019.9 L436.8,2019.9 L438.8,2019.8 L440.8,2019.8 L442.8,2019.8 L444.8,2019.8 L446.8,2019.8 L448.8,2019.8 L450.8,2019.8 L452.8,2019.7 L454.8,2019.7 L456.8,2019.6 L458.8,2019.6 L460.8,2019.5 L462.8,2019.5 L464.8,2019.4 L466.8,2019.4 L468.8,2019.3 L470.8,2019.3 L472.8,2019.2 L474.8,2019.2 L476.8,2019.1 L478.8,2019.1 L480.8,2019.0 L482.8,2019.0 L484.8,2018.9 L486.8,2018.9 L488.8,2018.8 L490.8,2018.8 L492.8,2018.7 L494.8,2018.7 L496.8,2018.6 L498.8,2018.6 L500.8,2018.5 L502.8,2018.5 L504.8,2018.4 L506.8,2018.3 L508.8,2018.3 L510.8,2018.2 L512.8,2018.2 L514.8,2018.1 L516.8,2018.1 L518.8,2018.0 L520.8,2018.0 L522.8,2017.9 L524.8,2017.9 L526.8,2017.8 L528.8,2017.8 L530.8,2017.7 L532.8,2017.7 L534.8,2017.6 L536.8,2017.6 L538.8,2017.5 L540.8,2017.4 L542.8,2017.4 L544.8,2017.3 L546.8,2017.2 L548.8,2017.1 L550.7,2017.0 L552.7,2016.9 L554.7,2016.8 L556.7,2016.7 L558.7,2016.6 L560.7,2016.5 L562.7,2016.3 L564.7,2016.2 L566.7,2016.0 L568.7,2015.8 L570.7,2015.6 L572.7,2015.4 L574.7,2015.2 L576.6,2014.9 L578.6,2014.6 L580.5,2014.1 L582.5,2013.6 L584.4,2013.1 L586.2,2012.4 L588.0,2011.5 L589.6,2010.4 L591.2,2009.2 L592.7,2008.0 L594.2,2006.6 L595.6,2005.2 L596.9,2003.7 L598.1,2002.1 L599.2,2000.5 L600.1,1998.7 L601.1,1996.9 L601.9,1995.1 L602.7,1993.3 L603.5,1991.5 L604.1,1989.6 L604.7,1987.7 L605.3,1985.8 L605.8,1983.9 L606.4,1981.9 L606.9,1980.0 L607.5,1978.1 L608.1,1976.2 L608.7,1974.3 L609.2,1972.4 L609.8,1970.4 L610.2,1968.5 L610.7,1966.5 L611.0,1964.6 L611.3,1962.6 L611.7,1960.6 L612.0,1958.7 L612.3,1956.7 L612.6,1954.7 L612.9,1952.7 L613.2,1950.8 L613.5,1948.8 L613.8,1946.8 L614.1,1944.8 L614.4,1942.9 L614.7,1940.9 L615.0,1938.9 L615.3,1936.9 L615.6,1935.0 L615.9,1933.0 L616.2,1931.0 L616.5,1929.0 L616.8,1927.0 L617.1,1925.1 L617.4,1923.1 L617.7,1921.1 L618.0,1919.1 L618.2,1917.1 L618.5,1915.2 L618.7,1913.2 L618.9,1911.2 L619.2,1909.2 L619.4,1907.2 L619.6,1905.2 L619.9,1903.3 L620.1,1901.3 L620.4,1899.3 L620.6,1897.3 L620.8,1895.3 L621.0,1893.3 L621.3,1891.3 L621.5,1889.4 L621.7,1887.4 L621.9,1885.4 L622.1,1883.4 L622.3,1881.4 L622.5,1879.4 L622.7,1877.4 L622.9,1875.4 L623.1,1873.4 L623.3,1871.4 L623.5,1869.5 L623.7,1867.5 L623.8,1865.5 L624.0,1863.5 L624.2,1861.5 L624.4,1859.5 L624.6,1857.5 L624.8,1855.5 L624.9,1853.5 L625.1,1851.5 L625.3,1849.6 L625.5,1847.6 L625.6,1845.6 L625.8,1843.6 L626.0,1841.6 L626.2,1839.6 L626.3,1837.6 L626.5,1835.6 L626.7,1833.6 L626.8,1831.6 L627.0,1829.6 L627.1,1827.6 L627.2,1825.6 L627.3,1823.6 L627.3,1821.7 L627.4,1819.7 L627.5,1817.7 L627.6,1815.7 L627.7,1813.7 L627.8,1811.7 L627.8,1809.7 L627.9,1807.7 L628.1,1805.7 L628.2,1803.7 L628.3,1801.7 L628.5,1799.7 L628.6,1797.7 L628.8,1795.7 L629.0,1793.7 L629.1,1791.7 L629.3,1789.7 L629.4,1787.7 L629.6,1785.7 L629.7,1783.8 L629.9,1781.8 L630.1,1779.8 L630.2,1777.8 L630.3,1775.8 L630.5,1773.8 L630.6,1771.8 L630.7,1769.8 L630.9,1767.8 L631.0,1765.8 L631.1,1763.8 L631.2,1761.8 L631.4,1759.8 L631.5,1757.8 L631.6,1755.8 L631.8,1753.8 L631.9,1751.8 L632.0,1749.8 L632.2,1747.9 L632.3,1745.9 L632.5,1743.9 L632.6,1741.9 L632.8,1739.9 L633.0,1737.9 L633.1,1735.9 L633.3,1733.9 L633.5,1731.9 L633.6,1729.9 L633.8,1727.9 L634.0,1725.9 L634.1,1723.9 L634.3,1721.9 L634.4,1720.0 L634.6,1718.0 L634.8,1716.0 L634.9,1714.0 L635.1,1712.0 L635.2,1710.0 L635.4,1708.0 L635.6,1706.0 L635.7,1704.0 L635.9,1702.0 L636.0,1700.0 L636.2,1698.0 L636.3,1696.0 L636.5,1694.1 L636.7,1692.1 L636.9,1690.1 L637.1,1688.1 L637.3,1686.1 L637.5,1684.1 L637.7,1682.1 L637.9,1680.1 L638.1,1678.1 L638.3,1676.1 L638.5,1674.2 L638.7,1672.2 L638.9,1670.2 L639.1,1668.2 L639.3,1666.2 L639.5,1664.2 L639.7,1662.2 L639.9,1660.2 L640.1,1658.2 L640.3,1656.3 L640.5,1654.3 L640.7,1652.3 L640.9,1650.3 L641.1,1648.3 L641.3,1646.3 L641.5,1644.3 L641.7,1642.3 L641.9,1640.3 L642.1,1638.4 L642.3,1636.4 L642.5,1634.4 L642.7,1632.4 L642.9,1630.4 L643.1,1628.4 L643.3,1626.4 L643.5,1624.4 L643.7,1622.5 L644.0,1620.5 L644.2,1618.5 L644.4,1616.5 L644.6,1614.5 L644.9,1612.5 L645.1,1610.5 L645.4,1608.6 L645.6,1606.6 L645.9,1604.6 L646.2,1602.6 L646.5,1600.6 L646.7,1598.7 L647.0,1596.7 L647.4,1594.7 L647.7,1592.7 L648.1,1590.8 L648.5,1588.8 L648.9,1586.9 L649.3,1584.9 L649.8,1583.0 L650.4,1581.1 L651.0,1579.1 L651.6,1577.3 L652.3,1575.5 L653.3,1573.8 L654.4,1572.3 L655.7,1571.1 L657.1,1570.4 L658.4,1570.5 L659.7,1571.3 L661.0,1572.5 L662.3,1574.0 L663.4,1575.6 L664.3,1577.3 L665.1,1579.1 L665.8,1581.0 L666.5,1582.9 L667.1,1584.8 L667.6,1586.7 L668.2,1588.6 L668.7,1590.6 L669.1,1592.5 L669.6,1594.5 L670.0,1596.4 L670.4,1598.4 L670.8,1600.3 L671.1,1602.3 L671.5,1604.3 L671.8,1606.2 L672.2,1608.2 L672.5,1610.2 L672.9,1612.2 L673.2,1614.1 L673.6,1616.1 L673.9,1618.1 L674.2,1620.0 L674.6,1622.0 L674.9,1624.0 L675.3,1625.9 L675.6,1627.9 L676.0,1629.9 L676.3,1631.8 L676.6,1633.8 L676.9,1635.8 L677.2,1637.8 L677.5,1639.7 L677.8,1641.7 L678.2,1643.7 L678.5,1645.7 L678.8,1647.6 L679.1,1649.6 L679.4,1651.6 L679.7,1653.6 L680.0,1655.5 L680.3,1657.5 L680.7,1659.5 L681.0,1661.5 L681.3,1663.4 L681.6,1665.4 L681.9,1667.4 L682.2,1669.4 L682.6,1671.3 L682.9,1673.3 L683.2,1675.3 L683.5,1677.3 L683.8,1679.2 L684.1,1681.2 L684.4,1683.2 L684.7,1685.2 L685.0,1687.1 L685.2,1689.1 L685.4,1691.1 L685.7,1693.1 L685.9,1695.1 L686.1,1697.1 L686.4,1699.0 L686.6,1701.0 L686.9,1703.0 L687.1,1705.0 L687.3,1707.0 L687.6,1709.0 L687.9,1711.0 L688.2,1712.9 L688.5,1714.9 L688.8,1716.9 L689.1,1718.9 L689.4,1720.8 L689.7,1722.8 L690.0,1724.8 L690.3,1726.8 L690.7,1728.7 L691.0,1730.7 L691.3,1732.7 L691.6,1734.6 L691.9,1736.6 L692.2,1738.6 L692.5,1740.6 L692.9,1742.5 L693.2,1744.5 L693.5,1746.5 L693.8,1748.5 L694.1,1750.4 L694.4,1752.4 L694.8,1754.4 L695.1,1756.4 L695.4,1758.3 L695.7,1760.3 L696.1,1762.3 L696.4,1764.2 L696.8,1766.2 L697.2,1768.2 L697.6,1770.1 L698.0,1772.1 L698.3,1774.1 L698.7,1776.0 L699.1,1778.0 L699.5,1779.9 L699.9,1781.9 L700.3,1783.9 L700.7,1785.8 L701.0,1787.8 L701.4,1789.7 L701.7,1791.7 L702.0,1793.7 L702.2,1795.7 L702.5,1797.7 L702.7,1799.6 L703.0,1801.6 L703.2,1803.6 L703.5,1805.6 L703.7,1807.6 L704.0,1809.6 L704.3,1811.5 L704.5,1813.5 L704.8,1815.5 L705.0,1817.5 L705.3,1819.5 L705.5,1821.5 L705.8,1823.4 L706.0,1825.4 L706.3,1827.4 L706.6,1829.4 L706.9,1831.4 L707.2,1833.3 L707.6,1835.3 L708.0,1837.3 L708.3,1839.2 L708.7,1841.2 L709.1,1843.2 L709.4,1845.1 L709.8,1847.1 L710.2,1849.0 L710.6,1851.0 L711.0,1852.9 L711.5,1854.9 L712.0,1856.8 L712.5,1858.8 L712.9,1860.7 L713.4,1862.7 L713.9,1864.6 L714.4,1866.5 L714.9,1868.5 L715.4,1870.4 L715.8,1872.4 L716.3,1874.3 L716.8,1876.2 L717.3,1878.2 L717.8,1880.1 L718.3,1882.0 L718.8,1884.0 L719.3,1885.9 L719.8,1887.9 L720.2,1889.8 L720.7,1891.7 L721.2,1893.7 L721.6,1895.6 L722.1,1897.6 L722.5,1899.5 L722.9,1901.5 L723.4,1903.4 L723.8,1905.4 L724.3,1907.3 L724.7,1909.3 L725.2,1911.2 L725.7,1913.2 L726.2,1915.1 L726.8,1917.0 L727.4,1918.9 L728.0,1920.8 L728.5,1922.7 L729.1,1924.7 L729.7,1926.6 L730.3,1928.5 L730.8,1930.4 L731.5,1932.3 L732.1,1934.2 L732.8,1936.0 L733.6,1937.9 L734.3,1939.8 L735.1,1941.6 L735.8,1943.5 L736.6,1945.3 L737.3,1947.2 L738.1,1949.0 L738.8,1950.9 L739.6,1952.7 L740.5,1954.5 L741.4,1956.3 L742.4,1958.0 L743.4,1959.7 L744.5,1961.4 L745.5,1963.1 L746.5,1964.8 L747.6,1966.5 L748.6,1968.2 L749.7,1969.9 L750.8,1971.6 L751.9,1973.2 L753.2,1974.8 L754.5,1976.2 L755.9,1977.7 L757.3,1979.1 L758.7,1980.5 L760.1,1981.9 L761.5,1983.3 L762.9,1984.7 L764.4,1986.2 L765.8,1987.5 L767.3,1988.9 L768.9,1990.1 L770.5,1991.2 L772.2,1992.3 L773.9,1993.3 L775.6,1994.4 L777.3,1995.4 L779.0,1996.4 L780.7,1997.4 L782.4,1998.5 L784.2,1999.5 L785.9,2000.5 L787.6,2001.5 L789.4,2002.4 L791.2,2003.3 L793.0,2004.1 L794.9,2004.8 L796.7,2005.6 L798.6,2006.3 L800.4,2007.0 L802.3,2007.8 L804.1,2008.5 L806.0,2009.3 L807.9,2010.0 L809.8,2010.6 L811.7,2011.1 L813.6,2011.6 L815.6,2012.0 L817.5,2012.3 L819.5,2012.7 L821.5,2013.1 L823.4,2013.4 L825.4,2013.8 L827.4,2014.1 L829.3,2014.5 L831.3,2014.8 L833.3,2015.2 L835.2,2015.5 L837.2,2015.8 L839.2,2016.0 L841.2,2016.2 L843.2,2016.4 L845.2,2016.6 L847.2,2016.7 L849.2,2016.9 L851.1,2017.1 L853.1,2017.2 L855.1,2017.4 L857.1,2017.6 L859.1,2017.7 L861.1,2017.9 L863.1,2018.1 L865.1,2018.2 L867.1,2018.4 L869.1,2018.5 L871.1,2018.6 L873.1,2018.7 L875.1,2018.7 L877.1,2018.7 L879.1,2018.8 L881.1,2018.8 L883.1,2018.8 L885.1,2018.9 L887.1,2018.9 L889.1,2018.9 L891.1,2019.0 L893.1,2019.0 L895.1,2019.0 L897.1,2019.1 L899.1,2019.1 L901.1,2019.2 L903.1,2019.2 L905.1,2019.2 L907.1,2019.3 L909.1,2019.3 L911.0,2019.3 L913.0,2019.4 L915.0,2019.4 L917.0,2019.4 L919.0,2019.5 L921.0,2019.5 L923.0,2019.5 L925.0,2019.6 L927.0,2019.6 L929.0,2019.6 L931.0,2019.7 L933.0,2019.7 L935.0,2019.7 L937.0,2019.8 L939.0,2019.8 L941.0,2019.8 L943.0,2019.9 L945.0,2019.9 L947.0,2019.9 L949.0,2020.0 L951.0,2020.0 L953.0,2020.0 L955.0,2020.0 L957.0,2020.0 L959.0,2020.1 L961.0,2020.1 L963.0,2020.1 L965.0,2020.1 L967.0,2020.1 L969.0,2020.1 L971.0,2020.1 L973.0,2020.1 L975.0,2020.2 L977.0,2020.2 L979.0,2020.2 L981.0,2020.2 L983.0,2020.2 L985.0,2020.2 L987.0,2020.2 L989.0,2020.2 L991.0,2020.2 L993.0,2020.3 L994.9,2020.3 L996.8,2020.3 L998.2,2020.3 L998.8,2020.3" stroke="#000" stroke-width="3.9" fill="none" stroke-linejoin="round" stroke-linecap="round"/>
<path d="M116.2,2020.6 L117.4,2020.6 L119.1,2020.6 L121.0,2020.6 L123.0,2020.6 L125.0,2020.6 L127.0,2020.6 L129.0,2020.6 L131.0,2020.6 L133.0,2020.6 L135.0,2020.6 L137.0,2020.6 L139.0,2020.6 L141.0,2020.6 L143.0,2020.6 L145.0,2020.6 L147.0,2020.6 L149.0,2020.6 L151.0,2020.6 L153.0,2020.6 L155.0,2020.6 L157.0,2020.6 L159.0,2020.6 L161.0,2020.6 L163.0,2020.7 L165.0,2020.7 L167.0,2020.7 L169.0,2020.7 L171.0,2020.7 L173.0,2020.7 L175.0,2020.7 L177.0,2020.7 L179.0,2020.7 L181.0,2020.7 L183.0,2020.7 L185.0,2020.7 L187.0,2020.7 L189.0,2020.7 L191.0,2020.7 L193.0,2020.7 L195.0,2020.7 L197.0,2020.7 L199.0,2020.7 L201.0,2020.7 L203.0,2020.7 L205.0,2020.7 L207.0,2020.7 L209.0,2020.7 L211.0,2020.7 L213.0,2020.7 L215.0,2020.7 L217.0,2020.7 L219.0,2020.7 L221.0,2020.7 L223.0,2020.7 L225.0,2020.7 L227.0,2020.7 L229.0,2020.7 L231.0,2020.7 L233.0,2020.7 L235.0,2020.7 L237.0,2020.7 L239.0,2020.7 L241.0,2020.7 L243.0,2020.7 L245.0,2020.7 L247.0,2020.7 L249.0,2020.7 L251.0,2020.7 L253.0,2020.7 L255.0,2020.8 L257.0,2020.8 L259.0,2020.8 L261.0,2020.8 L263.0,2020.8 L265.0,2020.8 L267.0,2020.8 L269.0,2020.8 L271.0,2020.8 L273.0,2020.8 L275.0,2020.8 L277.0,2020.8 L279.0,2020.8 L281.0,2020.8 L283.0,2020.8 L285.0,2020.8 L287.0,2020.8 L289.0,2020.8 L291.0,2020.8 L292.9,2020.8 L294.9,2020.8 L296.9,2020.8 L298.9,2020.8 L300.9,2020.8 L302.9,2020.8 L304.9,2020.8 L306.9,2020.8 L308.9,2020.8 L310.9,2020.8 L312.9,2020.8 L314.9,2020.8 L316.9,2020.8 L318.9,2020.8 L320.9,2020.8 L322.9,2020.8 L324.9,2020.8 L326.9,2020.8 L328.9,2020.8 L330.9,2020.8 L332.9,2020.8 L334.9,2020.8 L336.9,2020.8 L338.9,2020.8 L340.9,2020.8 L342.9,2020.8 L344.9,2020.8 L346.9,2020.8 L348.9,2020.8 L350.9,2020.8 L352.9,2020.8 L354.9,2020.8 L356.9,2020.8 L358.9,2020.8 L360.9,2020.8 L362.9,2020.8 L364.9,2020.8 L366.9,2020.8 L368.9,2020.8 L370.9,2020.8 L372.9,2020.7 L374.9,2020.7 L376.9,2020.7 L378.9,2020.7 L380.9,2020.7 L382.9,2020.7 L384.9,2020.7 L386.9,2020.7 L388.9,2020.7 L390.9,2020.7 L392.9,2020.7 L394.9,2020.7 L396.9,2020.7 L398.9,2020.7 L400.9,2020.7 L402.9,2020.7 L404.9,2020.7 L406.9,2020.7 L408.9,2020.7 L410.9,2020.7 L412.9,2020.7 L414.9,2020.7 L416.9,2020.7 L418.9,2020.7 L420.9,2020.7 L422.9,2020.7 L424.9,2020.7 L426.9,2020.7 L428.9,2020.7 L430.9,2020.7 L432.9,2020.7 L434.9,2020.7 L436.9,2020.7 L438.9,2020.7 L440.9,2020.7 L442.9,2020.7 L444.9,2020.7 L446.9,2020.7 L448.9,2020.7 L450.9,2020.7 L452.9,2020.6 L454.9,2020.6 L456.9,2020.6 L458.9,2020.6 L460.9,2020.6 L462.9,2020.6 L464.9,2020.6 L466.9,2020.6 L468.9,2020.5 L470.9,2020.5 L472.9,2020.5 L474.9,2020.5 L476.9,2020.5 L478.9,2020.5 L480.9,2020.5 L482.9,2020.5 L484.9,2020.4 L486.9,2020.4 L488.9,2020.4 L490.9,2020.4 L492.9,2020.4 L494.9,2020.4 L496.9,2020.4 L498.9,2020.4 L500.9,2020.3 L502.9,2020.3 L504.9,2020.3 L506.9,2020.3 L508.9,2020.2 L510.9,2020.1 L512.9,2020.0 L514.9,2019.9 L516.9,2019.8 L518.9,2019.7 L520.9,2019.6 L522.9,2019.5 L524.9,2019.3 L526.9,2019.2 L528.8,2019.1 L530.8,2019.0 L532.8,2018.9 L534.8,2018.8 L536.8,2018.6 L538.8,2018.5 L540.8,2018.2 L542.8,2017.9 L544.7,2017.6 L546.7,2017.2 L548.7,2016.9 L550.6,2016.5 L552.6,2016.1 L554.6,2015.7 L556.5,2015.3 L558.5,2014.8 L560.4,2014.3 L562.3,2013.8 L564.1,2013.1 L565.9,2012.3 L567.6,2011.2 L569.2,2010.1 L570.7,2008.8 L572.1,2007.4 L573.3,2005.8 L574.5,2004.2 L575.6,2002.6 L576.7,2000.9 L577.8,1999.2 L578.8,1997.5 L579.8,1995.8 L580.7,1994.0 L581.7,1992.3 L582.6,1990.5 L583.6,1988.7 L584.5,1986.9 L585.3,1985.1 L586.1,1983.3 L586.7,1981.4 L587.3,1979.5 L587.9,1977.6 L588.5,1975.7 L589.1,1973.8 L589.6,1971.9 L590.2,1969.9 L590.8,1968.0 L591.3,1966.1 L591.9,1964.2 L592.3,1962.2 L592.8,1960.3 L593.2,1958.3 L593.6,1956.4 L594.0,1954.4 L594.4,1952.5 L594.8,1950.5 L595.2,1948.5 L595.6,1946.6 L596.0,1944.6 L596.4,1942.7 L596.8,1940.7 L597.2,1938.7 L597.6,1936.8 L597.9,1934.8 L598.3,1932.9 L598.7,1930.9 L599.1,1928.9 L599.5,1927.0 L599.9,1925.0 L600.3,1923.0 L600.7,1921.1 L601.0,1919.1 L601.4,1917.2 L601.8,1915.2 L602.1,1913.2 L602.4,1911.3 L602.8,1909.3 L603.1,1907.3 L603.4,1905.3 L603.7,1903.4 L604.0,1901.4 L604.4,1899.4 L604.7,1897.4 L605.0,1895.5 L605.3,1893.5 L605.6,1891.5 L605.9,1889.5 L606.3,1887.6 L606.6,1885.6 L606.9,1883.6 L607.2,1881.6 L607.5,1879.7 L607.9,1877.7 L608.2,1875.7 L608.5,1873.7 L608.8,1871.8 L609.1,1869.8 L609.5,1867.8 L609.8,1865.9 L610.1,1863.9 L610.4,1861.9 L610.6,1859.9 L610.9,1857.9 L611.1,1855.9 L611.3,1854.0 L611.5,1852.0 L611.8,1850.0 L612.0,1848.0 L612.2,1846.0 L612.4,1844.0 L612.6,1842.0 L612.9,1840.0 L613.1,1838.1 L613.3,1836.1 L613.5,1834.1 L613.8,1832.1 L614.0,1830.1 L614.2,1828.1 L614.4,1826.1 L614.7,1824.2 L614.9,1822.2 L615.1,1820.2 L615.4,1818.2 L615.6,1816.2 L615.8,1814.2 L616.1,1812.2 L616.3,1810.3 L616.5,1808.3 L616.8,1806.3 L617.1,1804.3 L617.3,1802.3 L617.6,1800.3 L617.9,1798.4 L618.2,1796.4 L618.5,1794.4 L618.8,1792.4 L619.1,1790.5 L619.4,1788.5 L619.7,1786.5 L620.0,1784.5 L620.3,1782.6 L620.7,1780.6 L621.0,1778.6 L621.3,1776.6 L621.6,1774.7 L621.9,1772.7 L622.3,1770.7 L622.6,1768.7 L623.0,1766.8 L623.4,1764.8 L623.7,1762.9 L624.1,1760.9 L624.5,1758.9 L624.9,1757.0 L625.3,1755.0 L625.8,1753.1 L626.2,1751.1 L626.7,1749.2 L627.1,1747.2 L627.6,1745.3 L628.1,1743.4 L628.7,1741.4 L629.3,1739.5 L629.9,1737.6 L630.6,1735.8 L631.4,1733.9 L632.2,1732.1 L633.0,1730.3 L634.0,1728.6 L635.1,1727.0 L636.2,1725.6 L637.5,1724.8 L638.8,1724.7 L640.1,1725.3 L641.4,1726.5 L642.6,1727.9 L643.7,1729.5 L644.7,1731.3 L645.5,1733.1 L646.3,1734.9 L647.0,1736.8 L647.7,1738.6 L648.4,1740.5 L649.1,1742.4 L649.7,1744.3 L650.3,1746.2 L651.0,1748.1 L651.6,1750.0 L652.2,1751.9 L652.7,1753.8 L653.1,1755.8 L653.5,1757.7 L653.9,1759.7 L654.3,1761.7 L654.7,1763.6 L655.1,1765.6 L655.5,1767.5 L655.9,1769.5 L656.3,1771.5 L656.7,1773.4 L657.1,1775.4 L657.4,1777.3 L657.8,1779.3 L658.2,1781.3 L658.6,1783.2 L658.9,1785.2 L659.3,1787.2 L659.6,1789.1 L659.9,1791.1 L660.2,1793.1 L660.5,1795.1 L660.8,1797.1 L661.1,1799.0 L661.4,1801.0 L661.7,1803.0 L661.9,1805.0 L662.2,1806.9 L662.5,1808.9 L662.8,1810.9 L663.0,1812.9 L663.3,1814.9 L663.6,1816.9 L663.8,1818.8 L664.1,1820.8 L664.3,1822.8 L664.6,1824.8 L664.9,1826.8 L665.2,1828.7 L665.5,1830.7 L665.8,1832.7 L666.1,1834.7 L666.5,1836.6 L666.8,1838.6 L667.1,1840.6 L667.5,1842.5 L667.8,1844.5 L668.2,1846.5 L668.5,1848.5 L668.9,1850.4 L669.2,1852.4 L669.6,1854.3 L670.0,1856.3 L670.4,1858.3 L670.8,1860.2 L671.2,1862.2 L671.6,1864.1 L672.0,1866.1 L672.4,1868.1 L672.8,1870.0 L673.2,1872.0 L673.6,1873.9 L673.9,1875.9 L674.3,1877.9 L674.7,1879.8 L675.1,1881.8 L675.5,1883.8 L675.9,1885.7 L676.3,1887.7 L676.6,1889.6 L677.0,1891.6 L677.4,1893.6 L677.8,1895.5 L678.2,1897.5 L678.6,1899.4 L679.0,1901.4 L679.4,1903.4 L679.8,1905.3 L680.2,1907.3 L680.6,1909.2 L681.0,1911.2 L681.4,1913.2 L681.8,1915.1 L682.3,1917.1 L682.7,1919.0 L683.2,1920.9 L683.7,1922.9 L684.2,1924.8 L684.7,1926.8 L685.1,1928.7 L685.6,1930.7 L686.1,1932.6 L686.6,1934.5 L687.2,1936.4 L687.9,1938.3 L688.6,1940.2 L689.3,1942.0 L690.0,1943.9 L690.8,1945.8 L691.5,1947.6 L692.2,1949.5 L693.0,1951.3 L693.7,1953.2 L694.5,1955.0 L695.2,1956.9 L696.0,1958.8 L696.7,1960.6 L697.4,1962.5 L698.2,1964.3 L699.0,1966.2 L699.8,1968.0 L700.7,1969.8 L701.6,1971.5 L702.6,1973.2 L703.6,1975.0 L704.7,1976.7 L705.7,1978.4 L706.8,1980.1 L707.9,1981.7 L709.2,1983.2 L710.5,1984.7 L711.8,1986.2 L713.2,1987.7 L714.5,1989.2 L715.9,1990.7 L717.2,1992.1 L718.7,1993.5 L720.1,1994.9 L721.7,1996.1 L723.2,1997.4 L724.8,1998.6 L726.4,1999.8 L728.0,2001.0 L729.6,2002.2 L731.3,2003.2 L733.1,2004.1 L734.9,2005.0 L736.7,2005.8 L738.5,2006.6 L740.4,2007.4 L742.2,2008.1 L744.0,2008.9 L745.9,2009.6 L747.8,2010.2 L749.7,2010.7 L751.7,2011.1 L753.7,2011.5 L755.6,2011.9 L757.6,2012.3 L759.5,2012.7 L761.5,2013.0 L763.5,2013.4 L765.4,2013.8 L767.4,2014.2 L769.3,2014.6 L771.3,2015.0 L773.3,2015.3 L775.3,2015.6 L777.2,2015.8 L779.2,2016.0 L781.2,2016.2 L783.2,2016.4 L785.2,2016.6 L787.2,2016.8 L789.2,2017.0 L791.2,2017.2 L793.2,2017.4 L795.1,2017.6 L797.1,2017.8 L799.1,2018.0 L801.1,2018.2 L803.1,2018.4 L805.1,2018.5 L807.1,2018.6 L809.1,2018.8 L811.1,2018.8 L813.1,2018.9 L815.1,2019.0 L817.1,2019.1 L819.1,2019.2 L821.1,2019.3 L823.1,2019.4 L825.1,2019.4 L827.1,2019.5 L829.1,2019.6 L831.1,2019.7 L833.1,2019.8 L835.1,2019.9 L837.1,2019.9 L839.1,2020.0 L841.1,2020.1 L843.0,2020.2 L845.0,2020.3 L847.0,2020.3 L849.0,2020.4 L851.0,2020.4 L853.0,2020.4 L855.0,2020.4 L857.0,2020.4 L859.0,2020.4 L861.0,2020.4 L863.0,2020.4 L865.0,2020.4 L867.0,2020.4 L869.0,2020.4 L871.0,2020.4 L873.0,2020.4 L875.0,2020.4 L877.0,2020.4 L879.0,2020.4 L881.0,2020.4 L883.0,2020.4 L885.0,2020.4 L887.0,2020.5 L889.0,2020.5 L891.0,2020.5 L893.0,2020.5 L895.0,2020.5 L897.0,2020.5 L899.0,2020.5 L901.0,2020.5 L903.0,2020.5 L905.0,2020.5 L907.0,2020.5 L909.0,2020.5 L911.0,2020.5 L913.0,2020.5 L915.0,2020.5 L917.0,2020.5 L919.0,2020.5 L921.0,2020.5 L923.0,2020.5 L925.0,2020.5 L927.0,2020.5 L929.0,2020.5 L931.0,2020.5 L933.0,2020.5 L935.0,2020.5 L937.0,2020.5 L939.0,2020.5 L941.0,2020.5 L943.0,2020.5 L945.0,2020.5 L947.0,2020.5 L949.0,2020.5 L951.0,2020.5 L953.0,2020.5 L955.0,2020.5 L957.0,2020.5 L959.0,2020.5 L961.0,2020.5 L963.0,2020.6 L965.0,2020.6 L967.0,2020.6 L969.0,2020.6 L971.0,2020.6 L973.0,2020.6 L975.0,2020.6 L977.0,2020.6 L979.0,2020.6 L981.0,2020.6 L983.0,2020.6 L985.0,2020.6 L987.0,2020.6 L989.0,2020.6 L991.0,2020.6 L993.0,2020.6 L994.9,2020.6 L996.8,2020.6 L998.2,2020.6 L998.8,2020.6" stroke="#f20a0a" stroke-width="3.9" fill="none" stroke-linejoin="round" stroke-linecap="round"/>
<path d="M116.2,2020.3 L117.4,2020.3 L119.1,2020.3 L121.0,2020.3 L123.0,2020.3 L125.0,2020.3 L127.0,2020.3 L129.0,2020.3 L131.0,2020.3 L133.0,2020.3 L135.0,2020.3 L137.0,2020.3 L139.0,2020.2 L141.0,2020.2 L143.0,2020.2 L145.0,2020.2 L147.0,2020.2 L149.0,2020.2 L151.0,2020.2 L153.0,2020.2 L155.0,2020.2 L157.0,2020.2 L159.0,2020.2 L161.0,2020.2 L163.0,2020.2 L165.0,2020.2 L167.0,2020.2 L169.0,2020.2 L171.0,2020.2 L173.0,2020.2 L175.0,2020.2 L177.0,2020.2 L179.0,2020.2 L181.0,2020.2 L183.0,2020.1 L185.0,2020.1 L187.0,2020.1 L189.0,2020.1 L191.0,2020.1 L193.0,2020.1 L195.0,2020.1 L197.0,2020.1 L199.0,2020.1 L201.0,2020.1 L203.0,2020.1 L205.0,2020.1 L207.0,2020.1 L209.0,2020.1 L211.0,2020.1 L213.0,2020.1 L215.0,2020.1 L217.0,2020.1 L219.0,2020.1 L221.0,2020.1 L223.0,2020.1 L225.0,2020.1 L227.0,2020.1 L229.0,2020.0 L231.0,2020.0 L233.0,2020.0 L235.0,2020.0 L237.0,2020.0 L239.0,2020.0 L241.0,2020.0 L243.0,2020.0 L245.0,2020.0 L247.0,2020.0 L249.0,2020.0 L251.0,2020.0 L253.0,2020.0 L255.0,2020.0 L257.0,2020.0 L259.0,2020.0 L261.0,2020.0 L263.0,2020.0 L265.0,2020.0 L267.0,2020.0 L269.0,2020.0 L270.9,2020.0 L272.9,2019.9 L274.9,2019.9 L276.9,2019.9 L278.9,2019.9 L280.9,2019.9 L282.9,2019.9 L284.9,2019.9 L286.9,2019.9 L288.9,2019.9 L290.9,2019.9 L292.9,2019.9 L294.9,2019.9 L296.9,2019.9 L298.9,2019.9 L300.9,2019.9 L302.9,2019.9 L304.9,2019.9 L306.9,2019.9 L308.9,2019.9 L310.9,2019.9 L312.9,2019.9 L314.9,2019.9 L316.9,2019.8 L318.9,2019.8 L320.9,2019.8 L322.9,2019.8 L324.9,2019.8 L326.9,2019.8 L328.9,2019.8 L330.9,2019.8 L332.9,2019.8 L334.9,2019.8 L336.9,2019.8 L338.9,2019.8 L340.9,2019.8 L342.9,2019.8 L344.9,2019.8 L346.9,2019.8 L348.9,2019.8 L350.9,2019.8 L352.9,2019.8 L354.9,2019.8 L356.9,2019.8 L358.9,2019.7 L360.9,2019.7 L362.9,2019.7 L364.9,2019.7 L366.9,2019.7 L368.9,2019.7 L370.9,2019.7 L372.9,2019.7 L374.9,2019.7 L376.9,2019.7 L378.9,2019.7 L380.9,2019.6 L382.9,2019.6 L384.9,2019.5 L386.9,2019.5 L388.9,2019.4 L390.9,2019.4 L392.9,2019.3 L394.9,2019.2 L396.9,2019.2 L398.9,2019.1 L400.9,2019.0 L402.9,2019.0 L404.9,2018.9 L406.9,2018.9 L408.9,2018.8 L410.9,2018.7 L412.9,2018.7 L414.9,2018.6 L416.9,2018.5 L418.9,2018.5 L420.9,2018.4 L422.9,2018.4 L424.9,2018.3 L426.9,2018.2 L428.9,2018.2 L430.9,2018.1 L432.9,2018.0 L434.9,2018.0 L436.9,2017.9 L438.9,2017.9 L440.9,2017.8 L442.9,2017.7 L444.9,2017.7 L446.9,2017.6 L448.9,2017.6 L450.9,2017.5 L452.9,2017.4 L454.9,2017.4 L456.9,2017.3 L458.9,2017.3 L460.8,2017.2 L462.8,2017.1 L464.8,2017.1 L466.8,2017.0 L468.8,2017.0 L470.8,2016.9 L472.8,2016.8 L474.8,2016.8 L476.8,2016.7 L478.8,2016.7 L480.8,2016.6 L482.8,2016.5 L484.8,2016.5 L486.8,2016.4 L488.8,2016.4 L490.8,2016.3 L492.8,2016.2 L494.8,2016.2 L496.8,2016.1 L498.8,2016.1 L500.8,2016.0 L502.8,2015.9 L504.8,2015.9 L506.8,2015.8 L508.8,2015.7 L510.8,2015.6 L512.8,2015.4 L514.8,2015.3 L516.8,2015.2 L518.8,2015.0 L520.8,2014.9 L522.8,2014.7 L524.8,2014.6 L526.8,2014.4 L528.8,2014.3 L530.7,2014.2 L532.7,2014.0 L534.7,2013.9 L536.7,2013.7 L538.7,2013.5 L540.7,2013.3 L542.7,2013.0 L544.6,2012.6 L546.6,2012.2 L548.6,2011.8 L550.5,2011.4 L552.4,2010.9 L554.3,2010.3 L556.2,2009.7 L558.1,2009.1 L560.0,2008.4 L561.9,2007.8 L563.8,2007.1 L565.6,2006.3 L567.4,2005.5 L569.2,2004.6 L570.9,2003.6 L572.5,2002.4 L573.9,2001.1 L575.3,1999.6 L576.5,1998.1 L577.6,1996.4 L578.5,1994.7 L579.3,1992.9 L580.0,1991.0 L580.7,1989.1 L581.4,1987.3 L582.1,1985.4 L582.7,1983.5 L583.4,1981.6 L584.0,1979.7 L584.5,1977.8 L585.0,1975.8 L585.5,1973.9 L586.0,1972.0 L586.5,1970.0 L587.0,1968.1 L587.4,1966.1 L587.9,1964.2 L588.4,1962.3 L588.9,1960.3 L589.3,1958.4 L589.7,1956.4 L590.0,1954.4 L590.4,1952.5 L590.7,1950.5 L591.1,1948.5 L591.5,1946.6 L591.8,1944.6 L592.2,1942.6 L592.5,1940.7 L592.9,1938.7 L593.2,1936.7 L593.6,1934.8 L593.9,1932.8 L594.2,1930.8 L594.5,1928.8 L594.8,1926.8 L595.1,1924.9 L595.4,1922.9 L595.7,1920.9 L596.0,1918.9 L596.3,1917.0 L596.5,1915.0 L596.8,1913.0 L597.1,1911.0 L597.4,1909.1 L597.7,1907.1 L598.0,1905.1 L598.3,1903.1 L598.6,1901.1 L598.9,1899.2 L599.2,1897.2 L599.5,1895.2 L599.7,1893.2 L600.0,1891.2 L600.2,1889.3 L600.4,1887.3 L600.6,1885.3 L600.8,1883.3 L601.0,1881.3 L601.2,1879.3 L601.4,1877.3 L601.6,1875.3 L601.8,1873.3 L602.0,1871.3 L602.2,1869.4 L602.4,1867.4 L602.6,1865.4 L602.8,1863.4 L602.9,1861.4 L603.1,1859.4 L603.3,1857.4 L603.5,1855.4 L603.6,1853.4 L603.8,1851.4 L604.0,1849.4 L604.1,1847.5 L604.3,1845.5 L604.5,1843.5 L604.6,1841.5 L604.8,1839.5 L605.0,1837.5 L605.1,1835.5 L605.3,1833.5 L605.5,1831.5 L605.6,1829.5 L605.7,1827.5 L605.8,1825.5 L605.9,1823.5 L606.0,1821.5 L606.1,1819.5 L606.3,1817.5 L606.4,1815.5 L606.5,1813.6 L606.6,1811.6 L606.7,1809.6 L606.8,1807.6 L606.9,1805.6 L607.0,1803.6 L607.1,1801.6 L607.2,1799.6 L607.3,1797.6 L607.4,1795.6 L607.5,1793.6 L607.6,1791.6 L607.7,1789.6 L607.9,1787.6 L608.0,1785.6 L608.1,1783.6 L608.3,1781.6 L608.4,1779.6 L608.5,1777.6 L608.7,1775.6 L608.8,1773.6 L609.0,1771.6 L609.1,1769.6 L609.2,1767.7 L609.4,1765.7 L609.5,1763.7 L609.6,1761.7 L609.8,1759.7 L609.9,1757.7 L610.0,1755.7 L610.1,1753.7 L610.2,1751.7 L610.3,1749.7 L610.4,1747.7 L610.5,1745.7 L610.6,1743.7 L610.7,1741.7 L610.8,1739.7 L610.9,1737.7 L611.0,1735.7 L611.1,1733.7 L611.2,1731.7 L611.3,1729.7 L611.4,1727.7 L611.5,1725.7 L611.6,1723.7 L611.7,1721.7 L611.8,1719.7 L611.9,1717.7 L612.0,1715.7 L612.1,1713.7 L612.2,1711.7 L612.3,1709.8 L612.4,1707.8 L612.5,1705.8 L612.6,1703.8 L612.7,1701.8 L612.8,1699.8 L612.9,1697.8 L613.0,1695.8 L613.1,1693.8 L613.2,1691.8 L613.3,1689.8 L613.4,1687.8 L613.5,1685.8 L613.5,1683.8 L613.6,1681.8 L613.7,1679.8 L613.8,1677.8 L613.9,1675.8 L614.0,1673.8 L614.1,1671.8 L614.2,1669.8 L614.3,1667.8 L614.4,1665.8 L614.5,1663.8 L614.6,1661.8 L614.7,1659.8 L614.8,1657.8 L614.9,1655.8 L615.0,1653.8 L615.1,1651.8 L615.2,1649.8 L615.3,1647.8 L615.4,1645.8 L615.5,1643.9 L615.6,1641.9 L615.7,1639.9 L615.8,1637.9 L615.9,1635.9 L616.0,1633.9 L616.1,1631.9 L616.2,1629.9 L616.2,1627.9 L616.3,1625.9 L616.4,1623.9 L616.4,1621.9 L616.5,1619.9 L616.5,1617.9 L616.6,1615.9 L616.6,1613.9 L616.7,1611.9 L616.8,1609.9 L616.8,1607.9 L616.9,1605.9 L616.9,1603.9 L617.0,1601.9 L617.0,1599.9 L617.1,1597.9 L617.1,1595.9 L617.2,1593.9 L617.2,1591.9 L617.3,1589.9 L617.4,1587.9 L617.4,1585.9 L617.5,1583.9 L617.6,1581.9 L617.6,1579.9 L617.7,1577.9 L617.8,1575.9 L617.8,1573.9 L617.9,1571.9 L618.0,1569.9 L618.1,1567.9 L618.1,1565.9 L618.2,1563.9 L618.3,1561.9 L618.3,1559.9 L618.4,1557.9 L618.5,1555.9 L618.6,1553.9 L618.7,1551.9 L618.8,1549.9 L618.9,1547.9 L619.0,1545.9 L619.1,1544.0 L619.2,1542.0 L619.3,1540.0 L619.4,1538.0 L619.5,1536.0 L619.6,1534.0 L619.7,1532.0 L619.8,1530.0 L619.9,1528.0 L620.0,1526.0 L620.1,1524.0 L620.1,1522.0 L620.2,1520.0 L620.3,1518.0 L620.3,1516.0 L620.4,1514.0 L620.4,1512.0 L620.5,1510.0 L620.6,1508.0 L620.6,1506.0 L620.7,1504.0 L620.8,1502.0 L620.8,1500.0 L620.9,1498.0 L620.9,1496.0 L621.0,1494.0 L621.1,1492.0 L621.2,1490.0 L621.3,1488.0 L621.4,1486.0 L621.5,1484.0 L621.6,1482.0 L621.7,1480.0 L621.8,1478.0 L621.9,1476.0 L622.0,1474.0 L622.1,1472.0 L622.2,1470.0 L622.3,1468.0 L622.4,1466.0 L622.5,1464.1 L622.6,1462.1 L622.7,1460.1 L622.8,1458.1 L623.0,1456.1 L623.1,1454.1 L623.2,1452.1 L623.3,1450.1 L623.5,1448.1 L623.6,1446.1 L623.7,1444.1 L623.8,1442.1 L624.0,1440.1 L624.1,1438.1 L624.2,1436.1 L624.3,1434.1 L624.5,1432.1 L624.6,1430.1 L624.7,1428.1 L624.9,1426.1 L625.0,1424.1 L625.1,1422.1 L625.3,1420.2 L625.4,1418.2 L625.5,1416.2 L625.7,1414.2 L625.8,1412.2 L625.9,1410.2 L626.1,1408.2 L626.2,1406.2 L626.4,1404.2 L626.5,1402.2 L626.6,1400.2 L626.8,1398.2 L626.9,1396.2 L627.0,1394.2 L627.2,1392.2 L627.3,1390.2 L627.4,1388.2 L627.5,1386.2 L627.7,1384.2 L627.8,1382.3 L627.9,1380.3 L628.1,1378.3 L628.2,1376.3 L628.3,1374.3 L628.4,1372.3 L628.5,1370.3 L628.7,1368.3 L628.8,1366.3 L628.9,1364.3 L629.0,1362.3 L629.2,1360.3 L629.3,1358.3 L629.4,1356.3 L629.6,1354.3 L629.7,1352.3 L629.9,1350.3 L630.0,1348.3 L630.2,1346.3 L630.3,1344.3 L630.5,1342.4 L630.6,1340.4 L630.8,1338.4 L630.9,1336.4 L631.1,1334.4 L631.2,1332.4 L631.4,1330.4 L631.5,1328.4 L631.7,1326.4 L631.8,1324.4 L632.0,1322.4 L632.1,1320.4 L632.3,1318.4 L632.4,1316.4 L632.6,1314.4 L632.7,1312.4 L632.9,1310.5 L633.0,1308.5 L633.2,1306.5 L633.3,1304.5 L633.5,1302.5 L633.6,1300.5 L633.8,1298.5 L633.9,1296.5 L634.1,1294.5 L634.3,1292.5 L634.5,1290.5 L634.6,1288.5 L634.8,1286.5 L635.0,1284.6 L635.2,1282.6 L635.5,1280.6 L635.7,1278.6 L635.9,1276.6 L636.2,1274.6 L636.5,1272.7 L636.8,1270.7 L637.1,1268.7 L637.4,1266.7 L637.8,1264.8 L638.2,1262.8 L638.6,1260.9 L639.1,1258.9 L639.6,1257.0 L640.1,1255.1 L640.7,1253.2 L641.5,1251.4 L642.4,1249.7 L643.5,1248.2 L644.7,1247.2 L645.9,1246.8 L647.2,1247.2 L648.4,1248.3 L649.6,1249.7 L650.7,1251.3 L651.5,1253.1 L652.2,1255.0 L652.8,1256.8 L653.4,1258.8 L653.9,1260.7 L654.4,1262.6 L654.9,1264.6 L655.3,1266.5 L655.7,1268.5 L656.1,1270.4 L656.5,1272.4 L656.8,1274.4 L657.2,1276.3 L657.6,1278.3 L658.0,1280.2 L658.3,1282.2 L658.7,1284.2 L659.1,1286.1 L659.5,1288.1 L659.9,1290.1 L660.3,1292.0 L660.6,1294.0 L661.0,1296.0 L661.3,1297.9 L661.6,1299.9 L661.9,1301.9 L662.2,1303.9 L662.5,1305.8 L662.8,1307.8 L663.1,1309.8 L663.4,1311.8 L663.7,1313.7 L664.0,1315.7 L664.3,1317.7 L664.6,1319.7 L664.9,1321.7 L665.2,1323.6 L665.4,1325.6 L665.7,1327.6 L666.0,1329.6 L666.3,1331.5 L666.6,1333.5 L666.9,1335.5 L667.2,1337.5 L667.5,1339.5 L667.7,1341.4 L668.0,1343.4 L668.2,1345.4 L668.5,1347.4 L668.7,1349.4 L669.0,1351.4 L669.2,1353.3 L669.5,1355.3 L669.7,1357.3 L670.0,1359.3 L670.2,1361.3 L670.5,1363.3 L670.7,1365.2 L671.0,1367.2 L671.2,1369.2 L671.5,1371.2 L671.7,1373.2 L672.0,1375.2 L672.2,1377.1 L672.4,1379.1 L672.7,1381.1 L672.9,1383.1 L673.1,1385.1 L673.3,1387.1 L673.5,1389.1 L673.7,1391.1 L673.9,1393.1 L674.1,1395.0 L674.2,1397.0 L674.4,1399.0 L674.6,1401.0 L674.8,1403.0 L674.9,1405.0 L675.1,1407.0 L675.2,1409.0 L675.4,1411.0 L675.5,1413.0 L675.7,1415.0 L675.8,1417.0 L676.0,1419.0 L676.1,1421.0 L676.3,1422.9 L676.4,1424.9 L676.6,1426.9 L676.7,1428.9 L676.9,1430.9 L677.0,1432.9 L677.2,1434.9 L677.3,1436.9 L677.4,1438.9 L677.6,1440.9 L677.7,1442.9 L677.9,1444.9 L678.0,1446.9 L678.2,1448.9 L678.3,1450.9 L678.4,1452.9 L678.6,1454.9 L678.7,1456.8 L678.9,1458.8 L679.0,1460.8 L679.2,1462.8 L679.4,1464.8 L679.6,1466.8 L679.8,1468.8 L680.0,1470.8 L680.2,1472.8 L680.4,1474.8 L680.6,1476.8 L680.8,1478.7 L681.0,1480.7 L681.2,1482.7 L681.4,1484.7 L681.6,1486.7 L681.8,1488.7 L682.0,1490.7 L682.2,1492.7 L682.4,1494.7 L682.6,1496.6 L682.8,1498.6 L683.0,1500.6 L683.2,1502.6 L683.4,1504.6 L683.6,1506.6 L683.8,1508.6 L684.0,1510.6 L684.2,1512.6 L684.4,1514.6 L684.6,1516.5 L684.8,1518.5 L685.0,1520.5 L685.2,1522.5 L685.4,1524.5 L685.5,1526.5 L685.7,1528.5 L685.9,1530.5 L686.1,1532.5 L686.3,1534.4 L686.5,1536.4 L686.7,1538.4 L686.9,1540.4 L687.1,1542.4 L687.3,1544.4 L687.5,1546.4 L687.7,1548.4 L687.9,1550.4 L688.1,1552.4 L688.3,1554.3 L688.5,1556.3 L688.7,1558.3 L688.9,1560.3 L689.1,1562.3 L689.3,1564.3 L689.5,1566.3 L689.7,1568.3 L689.9,1570.3 L690.1,1572.2 L690.3,1574.2 L690.5,1576.2 L690.7,1578.2 L690.9,1580.2 L691.1,1582.2 L691.3,1584.2 L691.5,1586.2 L691.7,1588.2 L691.9,1590.2 L692.1,1592.1 L692.3,1594.1 L692.4,1596.1 L692.6,1598.1 L692.8,1600.1 L693.0,1602.1 L693.1,1604.1 L693.3,1606.1 L693.5,1608.1 L693.7,1610.1 L693.8,1612.1 L694.0,1614.1 L694.2,1616.0 L694.4,1618.0 L694.5,1620.0 L694.7,1622.0 L694.9,1624.0 L695.1,1626.0 L695.2,1628.0 L695.4,1630.0 L695.7,1632.0 L695.9,1634.0 L696.1,1635.9 L696.4,1637.9 L696.6,1639.9 L696.9,1641.9 L697.1,1643.9 L697.4,1645.9 L697.6,1647.8 L697.9,1649.8 L698.1,1651.8 L698.4,1653.8 L698.6,1655.8 L698.9,1657.8 L699.1,1659.7 L699.4,1661.7 L699.6,1663.7 L699.9,1665.7 L700.1,1667.7 L700.4,1669.7 L700.6,1671.7 L700.9,1673.6 L701.1,1675.6 L701.4,1677.6 L701.6,1679.6 L701.8,1681.6 L702.1,1683.6 L702.3,1685.5 L702.6,1687.5 L702.8,1689.5 L703.1,1691.5 L703.3,1693.5 L703.6,1695.5 L703.8,1697.4 L704.0,1699.4 L704.3,1701.4 L704.5,1703.4 L704.8,1705.4 L705.0,1707.4 L705.2,1709.4 L705.5,1711.3 L705.7,1713.3 L705.9,1715.3 L706.2,1717.3 L706.4,1719.3 L706.6,1721.3 L706.9,1723.3 L707.1,1725.2 L707.4,1727.2 L707.6,1729.2 L707.8,1731.2 L708.1,1733.2 L708.3,1735.2 L708.6,1737.1 L708.8,1739.1 L709.1,1741.1 L709.3,1743.1 L709.6,1745.1 L709.8,1747.1 L710.1,1749.0 L710.3,1751.0 L710.6,1753.0 L710.8,1755.0 L711.1,1757.0 L711.3,1759.0 L711.6,1760.9 L711.9,1762.9 L712.1,1764.9 L712.4,1766.9 L712.7,1768.9 L712.9,1770.9 L713.2,1772.8 L713.5,1774.8 L713.7,1776.8 L714.0,1778.8 L714.3,1780.8 L714.5,1782.7 L714.8,1784.7 L715.1,1786.7 L715.3,1788.7 L715.6,1790.7 L715.9,1792.7 L716.1,1794.6 L716.4,1796.6 L716.7,1798.6 L717.0,1800.6 L717.2,1802.6 L717.5,1804.5 L717.8,1806.5 L718.0,1808.5 L718.3,1810.5 L718.6,1812.5 L718.9,1814.4 L719.1,1816.4 L719.4,1818.4 L719.7,1820.4 L720.0,1822.4 L720.2,1824.3 L720.5,1826.3 L720.9,1828.3 L721.3,1830.2 L721.7,1832.2 L722.3,1834.1 L722.9,1836.0 L723.5,1837.9 L724.0,1839.8 L724.6,1841.7 L725.2,1843.6 L725.8,1845.6 L726.4,1847.5 L727.0,1849.4 L727.5,1851.3 L728.1,1853.2 L728.6,1855.2 L729.1,1857.1 L729.6,1859.0 L730.1,1861.0 L730.5,1862.9 L731.0,1864.8 L731.5,1866.8 L732.0,1868.7 L732.5,1870.7 L732.9,1872.6 L733.3,1874.6 L733.7,1876.5 L734.0,1878.5 L734.4,1880.5 L734.7,1882.4 L735.1,1884.4 L735.4,1886.4 L735.8,1888.3 L736.1,1890.3 L736.5,1892.3 L736.8,1894.3 L737.2,1896.2 L737.6,1898.2 L738.0,1900.1 L738.6,1902.0 L739.2,1903.9 L739.9,1905.8 L740.7,1907.6 L741.4,1909.5 L742.2,1911.4 L742.9,1913.2 L743.7,1915.1 L744.4,1916.9 L745.2,1918.8 L745.9,1920.6 L746.6,1922.5 L747.4,1924.3 L748.1,1926.2 L748.9,1928.0 L749.6,1929.9 L750.3,1931.8 L751.1,1933.6 L751.8,1935.5 L752.6,1937.3 L753.3,1939.2 L754.1,1941.0 L754.8,1942.9 L755.7,1944.7 L756.6,1946.5 L757.5,1948.2 L758.5,1950.0 L759.5,1951.7 L760.4,1953.5 L761.4,1955.2 L762.4,1957.0 L763.3,1958.7 L764.3,1960.5 L765.4,1962.2 L766.5,1963.8 L767.7,1965.4 L768.9,1967.0 L770.1,1968.6 L771.4,1970.1 L772.6,1971.7 L773.9,1973.2 L775.1,1974.8 L776.4,1976.3 L777.7,1977.8 L779.1,1979.3 L780.5,1980.7 L782.0,1982.0 L783.5,1983.3 L785.0,1984.7 L786.5,1986.0 L788.0,1987.3 L789.5,1988.6 L791.0,1989.9 L792.6,1991.2 L794.2,1992.4 L795.8,1993.5 L797.5,1994.5 L799.2,1995.5 L801.0,1996.5 L802.7,1997.4 L804.5,1998.4 L806.2,1999.4 L808.0,2000.3 L809.8,2001.3 L811.5,2002.2 L813.3,2003.2 L815.1,2004.1 L816.9,2004.9 L818.7,2005.6 L820.6,2006.3 L822.5,2007.0 L824.4,2007.6 L826.3,2008.3 L828.1,2009.0 L830.0,2009.6 L831.9,2010.3 L833.8,2010.9 L835.7,2011.5 L837.6,2012.1 L839.6,2012.5 L841.5,2012.9 L843.5,2013.2 L845.5,2013.6 L847.4,2013.9 L849.4,2014.2 L851.4,2014.5 L853.4,2014.9 L855.3,2015.2 L857.3,2015.5 L859.3,2015.8 L861.3,2016.2 L863.2,2016.5 L865.2,2016.8 L867.2,2017.1 L869.2,2017.3 L871.1,2017.5 L873.1,2017.6 L875.1,2017.7 L877.1,2017.7 L879.1,2017.8 L881.1,2017.9 L883.1,2017.9 L885.1,2018.0 L887.1,2018.1 L889.1,2018.1 L891.1,2018.2 L893.1,2018.3 L895.1,2018.3 L897.1,2018.4 L899.1,2018.4 L901.1,2018.5 L903.1,2018.6 L905.1,2018.6 L907.1,2018.7 L909.1,2018.8 L911.1,2018.8 L913.1,2018.9 L915.1,2018.9 L917.1,2019.0 L919.1,2019.1 L921.1,2019.1 L923.1,2019.1 L925.1,2019.1 L927.1,2019.2 L929.1,2019.2 L931.1,2019.2 L933.1,2019.2 L935.1,2019.2 L937.1,2019.2 L939.1,2019.3 L941.1,2019.3 L943.1,2019.3 L945.1,2019.3 L947.1,2019.3 L949.1,2019.4 L951.1,2019.4 L953.1,2019.4 L955.1,2019.4 L957.1,2019.4 L959.1,2019.4 L961.1,2019.5 L963.1,2019.5 L965.1,2019.5 L967.1,2019.5 L969.1,2019.5 L971.1,2019.5 L973.1,2019.6 L975.1,2019.6 L977.1,2019.6 L979.1,2019.6 L981.1,2019.6 L983.1,2019.7 L985.1,2019.7 L987.1,2019.7 L989.1,2019.7 L991.1,2019.7 L993.1,2019.7 L995.1,2019.8 L997.1,2019.8 L999.1,2019.8 L1001.1,2019.8 L1003.1,2019.8 L1005.1,2019.8 L1007.1,2019.8 L1009.1,2019.8 L1011.1,2019.8 L1013.1,2019.8 L1015.1,2019.8 L1017.1,2019.8 L1019.1,2019.8 L1021.1,2019.8 L1023.1,2019.9 L1025.1,2019.9 L1027.1,2019.9 L1029.1,2019.9 L1031.1,2019.9 L1033.1,2019.9 L1035.1,2019.9 L1037.1,2019.9 L1039.1,2019.9 L1041.1,2019.9 L1043.1,2019.9 L1045.1,2019.9 L1047.1,2019.9 L1049.1,2019.9 L1051.1,2019.9 L1053.1,2019.9 L1055.1,2019.9 L1057.1,2019.9 L1059.0,2019.9 L1061.0,2019.9 L1063.0,2019.9 L1065.0,2020.0 L1067.0,2020.0 L1069.0,2020.0 L1071.0,2020.0 L1073.0,2020.0 L1075.0,2020.0 L1077.0,2020.0 L1079.0,2020.0 L1081.0,2020.0 L1083.0,2020.0 L1085.0,2020.0 L1087.0,2020.0 L1089.0,2020.0 L1091.0,2020.0 L1093.0,2020.0 L1095.0,2020.0 L1097.0,2020.0 L1099.0,2020.0 L1101.0,2020.0 L1103.0,2020.0 L1105.0,2020.0 L1107.0,2020.1 L1109.0,2020.1 L1111.0,2020.1 L1113.0,2020.1 L1115.0,2020.1 L1117.0,2020.1 L1119.0,2020.1 L1121.0,2020.1 L1123.0,2020.1 L1125.0,2020.1 L1127.0,2020.1 L1129.0,2020.1 L1131.0,2020.1 L1133.0,2020.1 L1135.0,2020.1 L1137.0,2020.1 L1139.0,2020.1 L1141.0,2020.1 L1143.0,2020.1 L1145.0,2020.1 L1147.0,2020.1 L1149.0,2020.2 L1151.0,2020.2 L1153.0,2020.2 L1155.0,2020.2 L1157.0,2020.2 L1159.0,2020.2 L1161.0,2020.2 L1163.0,2020.2 L1165.0,2020.2 L1167.0,2020.2 L1169.0,2020.2 L1171.0,2020.2 L1173.0,2020.2 L1175.0,2020.2 L1177.0,2020.2 L1179.0,2020.2 L1181.0,2020.2 L1183.0,2020.2 L1185.0,2020.2 L1187.0,2020.2 L1189.0,2020.2 L1191.0,2020.3 L1193.0,2020.3 L1195.0,2020.3 L1197.0,2020.3 L1199.0,2020.3 L1201.0,2020.3 L1203.0,2020.3 L1205.0,2020.3 L1206.9,2020.3 L1208.8,2020.3 L1210.2,2020.3 L1210.8,2020.3" stroke="#0a14e2" stroke-width="3.9" fill="none" stroke-linejoin="round" stroke-linecap="round"/>
<rect x="689.1" y="1185.8" width="112.1" height="8.8" fill="#4052e6"/>
<rect x="686.7" y="1234.8" width="112" height="8.9" fill="#000"/>
<rect x="686.7" y="1280.1" width="112" height="8.8" fill="#f80808"/>
<text x="813.15" y="1204.00" font-family='"Liberation Sans", Arial, sans-serif' font-weight="bold" font-size="37.00" fill="#000" textLength="220.69" lengthAdjust="spacingAndGlyphs">CBFβ + A3F</text>
<text x="1034.35" y="1214.20" font-family='"Liberation Sans", Arial, sans-serif' font-weight="bold" font-size="23.00" fill="#000" textLength="77.55" lengthAdjust="spacingAndGlyphs">CTDm</text>
<text x="813.78" y="1251.00" font-family='"Liberation Sans", Arial, sans-serif' font-weight="bold" font-size="37.00" fill="#000">A3F</text>
<text x="885.44" y="1260.80" font-family='"Liberation Sans", Arial, sans-serif' font-weight="bold" font-size="23.00" fill="#000" textLength="77.76" lengthAdjust="spacingAndGlyphs">CTDm</text>
<text x="813.15" y="1298.40" font-family='"Liberation Sans", Arial, sans-serif' font-weight="bold" font-size="37.00" fill="#000" textLength="103.43" lengthAdjust="spacingAndGlyphs">CBFβ</text>
<text x="1055.55" y="1368.50" font-family='"Liberation Sans", Arial, sans-serif' font-weight="bold" font-size="52.00" fill="#000" textLength="32.68" lengthAdjust="spacingAndGlyphs">c</text>
<text x="1397.89" y="1359.50" font-family='Carlito, Calibri, "Liberation Sans", sans-serif' font-weight="bold" font-size="38.00" fill="#000" textLength="124.86" lengthAdjust="spacingAndGlyphs">Lysates</text>
<text x="1767.46" y="1356.20" font-family='Carlito, Calibri, "Liberation Sans", sans-serif' font-weight="bold" font-size="38.00" fill="#000" textLength="110.06" lengthAdjust="spacingAndGlyphs">Flag IP</text>
<path d="M1255.8,1378 H1611.3 M1631.5,1377.3 H1986.6" stroke="#000" stroke-width="2"/>
<text x="1178.30" y="1428.40" font-family='Carlito, Calibri, "Liberation Sans", sans-serif' font-weight="bold" font-size="37.00" fill="#000" textLength="64.19" lengthAdjust="spacingAndGlyphs">A3F</text>
<text x="1187.80" y="1481.00" font-family='Carlito, Calibri, "Liberation Sans", sans-serif' font-weight="bold" font-size="37.00" fill="#000" textLength="46.54" lengthAdjust="spacingAndGlyphs">Vif</text>
<text x="1057.64" y="1531.00" font-family='Carlito, Calibri, "Liberation Sans", sans-serif' font-weight="bold" font-size="37.00" fill="#000" textLength="182.84" lengthAdjust="spacingAndGlyphs">Benzonase</text>
<text x="1101.63" y="1625.40" font-family='Carlito, Calibri, "Liberation Sans", sans-serif' font-weight="bold" font-size="37.00" fill="#000" textLength="145.15" lengthAdjust="spacingAndGlyphs">Flag-A3F</text>
<text x="1135.10" y="1705.30" font-family='Carlito, Calibri, "Liberation Sans", sans-serif' font-weight="bold" font-size="37.00" fill="#000" textLength="107.37" lengthAdjust="spacingAndGlyphs">Vif-HA</text>
<text x="1078.37" y="1812.20" font-family='Carlito, Calibri, "Liberation Sans", sans-serif' font-weight="bold" font-size="37.00" fill="#000" textLength="168.56" lengthAdjust="spacingAndGlyphs">CBFβ-myc</text>
<text x="1131.84" y="1923.80" font-family='Carlito, Calibri, "Liberation Sans", sans-serif' font-weight="bold" font-size="37.00" fill="#000" textLength="108.97" lengthAdjust="spacingAndGlyphs">HSP90</text>
<path d="M1290.0,1418.2 h14.4" stroke="#000" stroke-width="3.0"/><path d="M1346.0,1418.2 h14.4" stroke="#000" stroke-width="3.0"/><path d="M1398.8,1418.2 h16.4 M1407.0,1409.7 v17" stroke="#000" stroke-width="3.4"/><path d="M1457.8,1418.2 h16.4 M1466.0,1409.7 v17" stroke="#000" stroke-width="3.4"/><path d="M1511.9,1418.2 h16.4 M1520.1,1409.7 v17" stroke="#000" stroke-width="3.4"/><path d="M1570.7,1418.2 h16.4 M1578.9,1409.7 v17" stroke="#000" stroke-width="3.4"/><path d="M1290.0,1469.8 h14.4" stroke="#000" stroke-width="3.0"/><path d="M1346.0,1469.8 h14.4" stroke="#000" stroke-width="3.0"/><path d="M1398.8,1469.8 h16.4 M1407.0,1461.3 v17" stroke="#000" stroke-width="3.4"/><path d="M1457.8,1469.8 h16.4 M1466.0,1461.3 v17" stroke="#000" stroke-width="3.4"/><path d="M1512.9,1469.8 h14.4" stroke="#000" stroke-width="3.0"/><path d="M1571.7,1469.8 h14.4" stroke="#000" stroke-width="3.0"/><path d="M1289.0,1522.7 h16.4 M1297.2,1514.2 v17" stroke="#000" stroke-width="3.4"/><path d="M1346.0,1522.7 h14.4" stroke="#000" stroke-width="3.0"/><path d="M1398.8,1522.7 h16.4 M1407.0,1514.2 v17" stroke="#000" stroke-width="3.4"/><path d="M1458.8,1522.7 h14.4" stroke="#000" stroke-width="3.0"/><path d="M1511.9,1522.7 h16.4 M1520.1,1514.2 v17" stroke="#000" stroke-width="3.4"/><path d="M1571.7,1522.7 h14.4" stroke="#000" stroke-width="3.0"/><path d="M1668.5,1418.8 h14.4" stroke="#000" stroke-width="3.0"/><path d="M1722.8,1418.8 h14.4" stroke="#000" stroke-width="3.0"/><path d="M1777.6,1418.8 h16.4 M1785.8,1410.3 v17" stroke="#000" stroke-width="3.4"/><path d="M1832.7,1418.8 h16.4 M1840.9,1410.3 v17" stroke="#000" stroke-width="3.4"/><path d="M1890.7,1418.8 h16.4 M1898.9,1410.3 v17" stroke="#000" stroke-width="3.4"/><path d="M1951.2,1418.8 h16.4 M1959.4,1410.3 v17" stroke="#000" stroke-width="3.4"/><path d="M1668.5,1472.5 h14.4" stroke="#000" stroke-width="3.0"/><path d="M1722.8,1472.5 h14.4" stroke="#000" stroke-width="3.0"/><path d="M1777.6,1472.5 h16.4 M1785.8,1464.0 v17" stroke="#000" stroke-width="3.4"/><path d="M1832.7,1472.5 h16.4 M1840.9,1464.0 v17" stroke="#000" stroke-width="3.4"/><path d="M1891.7,1472.5 h14.4" stroke="#000" stroke-width="3.0"/><path d="M1952.2,1472.5 h14.4" stroke="#000" stroke-width="3.0"/><path d="M1667.5,1522.5 h16.4 M1675.7,1514.0 v17" stroke="#000" stroke-width="3.4"/><path d="M1722.8,1522.5 h14.4" stroke="#000" stroke-width="3.0"/><path d="M1777.6,1522.5 h16.4 M1785.8,1514.0 v17" stroke="#000" stroke-width="3.4"/><path d="M1833.7,1522.5 h14.4" stroke="#000" stroke-width="3.0"/><path d="M1890.7,1522.5 h16.4 M1898.9,1514.0 v17" stroke="#000" stroke-width="3.4"/><path d="M1952.2,1522.5 h14.4" stroke="#000" stroke-width="3.0"/>
<rect x="1259.2" y="1548.5" width="353.5" height="180.3" fill="#d1d1d1"/><rect x="1259.2" y="1548.5" width="353.5" height="180.3" fill="url(#lyg)"/><rect x="1259.2" y="1548.5" width="353.5" height="180.3" filter="url(#noise)" opacity="0.10"/><rect x="1271.4" y="1663.8" width="48.6" height="5.7" rx="2.6" fill="#b4b4b4" opacity="1.00" filter="url(#b2)"/><rect x="1329.0" y="1663.8" width="40.6" height="5.7" rx="2.6" fill="#b4b4b4" opacity="1.00" filter="url(#b2)"/><rect x="1380.8" y="1663.8" width="43.5" height="5.7" rx="2.6" fill="#b4b4b4" opacity="1.00" filter="url(#b2)"/><rect x="1436.5" y="1663.8" width="42.5" height="5.7" rx="2.6" fill="#b4b4b4" opacity="1.00" filter="url(#b2)"/><rect x="1491.2" y="1663.8" width="46.6" height="5.7" rx="2.6" fill="#b4b4b4" opacity="1.00" filter="url(#b2)"/><rect x="1547.9" y="1663.8" width="52.6" height="5.7" rx="2.6" fill="#b4b4b4" opacity="1.00" filter="url(#b2)"/><rect x="1376.7" y="1600.8" width="52.7" height="24.3" rx="11.0" fill="#050505" opacity="1.00" filter="url(#b2)"/><rect x="1434.0" y="1601.8" width="47.0" height="19.2" rx="8.7" fill="#050505" opacity="1.00" filter="url(#b2)"/><rect x="1485.0" y="1596.7" width="56.8" height="26.3" rx="12.0" fill="#050505" opacity="1.00" filter="url(#b2)"/><rect x="1543.8" y="1596.7" width="57.8" height="25.3" rx="11.5" fill="#050505" opacity="1.00" filter="url(#b2)"/><rect x="1377.7" y="1686.8" width="50.7" height="13.2" rx="6.0" fill="#050505" opacity="1.00" filter="url(#b2)"/><rect x="1433.4" y="1685.8" width="49.6" height="12.2" rx="5.5" fill="#050505" opacity="1.00" filter="url(#b2)"/><rect x="1635" y="1548.4" width="358.8" height="181.5" fill="#e0e0e0"/><rect x="1757.9" y="1604.0" width="52.0" height="20.0" rx="9.1" fill="#050505" opacity="1.00" filter="url(#b2)"/><rect x="1811.9" y="1605.0" width="50.0" height="16.0" rx="7.3" fill="#050505" opacity="1.00" filter="url(#b2)"/><rect x="1863.9" y="1603.0" width="55.9" height="22.0" rx="10.0" fill="#050505" opacity="1.00" filter="url(#b2)"/><rect x="1921.8" y="1603.0" width="63.0" height="19.0" rx="8.6" fill="#050505" opacity="1.00" filter="url(#b2)"/><rect x="1761.0" y="1665.5" width="42.0" height="17.5" rx="3.0" fill="#474747" opacity="0.85" filter="url(#b2)"/><rect x="1818.0" y="1668.0" width="37.0" height="18.0" rx="3.0" fill="#a4a4a4" opacity="0.90" filter="url(#b2)"/><path d="M1764,1679 C1790,1677 1800,1679 1805,1684 L1811,1694 C1813,1700 1812,1706 1808,1710 C1805,1713 1800,1713 1780,1712.8 L1764,1712.5 C1758,1712 1755,1709 1753.5,1704 C1752,1699 1755,1693 1758,1687 C1760,1682 1761,1679.5 1764,1679 Z" fill="#050505" filter="url(#b1)"/><path d="M1818,1683.5 C1835,1682.5 1850,1683 1857,1686 C1862,1689 1866,1695 1867.5,1701 C1868,1707 1865,1711 1860,1711.5 L1818,1711.5 C1813,1711 1810.5,1707 1810.5,1700 C1810.5,1693 1812,1685 1818,1683.5 Z" fill="#050505" filter="url(#b1)"/><rect x="1871.0" y="1702.6" width="48.0" height="2.4" rx="1.0" fill="#c0c0c0" opacity="1.00" filter="url(#b1)"/><rect x="1869.0" y="1551.5" width="47.0" height="4.0" rx="1.0" fill="#cdcdcd" opacity="1.00" filter="url(#b1)"/><rect x="1761.0" y="1716.8" width="43.0" height="4.7" rx="2.0" fill="#a8a8a8" opacity="1.00" filter="url(#b1)"/><rect x="1791.0" y="1720.5" width="42.0" height="4.5" rx="2.0" fill="#b4b4b4" opacity="1.00" filter="url(#b1)"/><rect x="1259.2" y="1747.8" width="355.1" height="87.5" fill="#d3d3d3"/><rect x="1259.2" y="1747.8" width="355.1" height="87.5" filter="url(#noise)" opacity="0.10"/><rect x="1268.0" y="1774.5" width="52.0" height="4.5" rx="2.0" fill="#b6b6b6" opacity="1.00" filter="url(#b2)"/><rect x="1330.0" y="1774.5" width="48.0" height="4.5" rx="2.0" fill="#b6b6b6" opacity="1.00" filter="url(#b2)"/><rect x="1387.0" y="1774.5" width="46.0" height="4.5" rx="2.0" fill="#b6b6b6" opacity="1.00" filter="url(#b2)"/><rect x="1442.0" y="1774.5" width="50.0" height="4.5" rx="2.0" fill="#b6b6b6" opacity="1.00" filter="url(#b2)"/><rect x="1502.0" y="1774.5" width="42.0" height="4.5" rx="2.0" fill="#b6b6b6" opacity="1.00" filter="url(#b2)"/><rect x="1555.0" y="1774.5" width="50.0" height="4.5" rx="2.0" fill="#b6b6b6" opacity="1.00" filter="url(#b2)"/><rect x="1263.3" y="1795.8" width="60.7" height="17.2" rx="7.8" fill="#050505" opacity="1.00" filter="url(#b2)"/><rect x="1326.0" y="1793.8" width="54.8" height="16.2" rx="7.4" fill="#050505" opacity="1.00" filter="url(#b2)"/><rect x="1383.8" y="1794.8" width="52.7" height="11.2" rx="5.1" fill="#050505" opacity="1.00" filter="url(#b2)"/><rect x="1438.5" y="1794.8" width="57.7" height="12.2" rx="5.5" fill="#050505" opacity="1.00" filter="url(#b2)"/><rect x="1498.3" y="1794.4" width="49.6" height="11.6" rx="5.3" fill="#050505" opacity="1.00" filter="url(#b2)"/><rect x="1549.9" y="1792.8" width="61.8" height="15.2" rx="6.9" fill="#050505" opacity="1.00" filter="url(#b2)"/><rect x="1272.0" y="1817.5" width="48.0" height="3.5" rx="1.6" fill="#bdbdbd" opacity="1.00" filter="url(#b1)"/><rect x="1330.0" y="1817.5" width="42.0" height="3.5" rx="1.6" fill="#bdbdbd" opacity="1.00" filter="url(#b1)"/><rect x="1635" y="1748" width="358.8" height="87" fill="#e0e0e0"/><g transform="rotate(-1.3 1797 1800)"><rect x="1768.9" y="1795.0" width="57.0" height="10.5" rx="4.8" fill="#050505" opacity="1.00" filter="url(#b2)"/></g><g transform="rotate(-1.3 1855 1798)"><rect x="1828.9" y="1793.6" width="52.9" height="9.7" rx="4.4" fill="#050505" opacity="1.00" filter="url(#b2)"/></g><rect x="1891.8" y="1800.8" width="46.0" height="2.4" rx="1.0" fill="#c4c4c4" opacity="1.00" filter="url(#b1)"/><rect x="1259.2" y="1852.5" width="354.8" height="94.3" fill="#d2d2d2"/><rect x="1259.2" y="1852.5" width="354.8" height="94.3" filter="url(#noise)" opacity="0.10"/><rect x="1269.4" y="1896.2" width="56.6" height="22.3" rx="7.0" fill="#050505" opacity="1.00" filter="url(#b2)"/><rect x="1278.4" y="1936.0" width="38.6" height="3.5" rx="1.6" fill="#b0b0b0" opacity="1.00" filter="url(#b1)"/><rect x="1326.0" y="1896.2" width="50.7" height="22.3" rx="7.0" fill="#050505" opacity="1.00" filter="url(#b2)"/><rect x="1335.0" y="1936.0" width="32.7" height="3.5" rx="1.6" fill="#b0b0b0" opacity="1.00" filter="url(#b1)"/><rect x="1376.7" y="1896.2" width="55.7" height="22.3" rx="7.0" fill="#050505" opacity="1.00" filter="url(#b2)"/><rect x="1385.7" y="1936.0" width="37.7" height="3.5" rx="1.6" fill="#b0b0b0" opacity="1.00" filter="url(#b1)"/><rect x="1432.4" y="1896.2" width="54.6" height="22.3" rx="7.0" fill="#050505" opacity="1.00" filter="url(#b2)"/><rect x="1441.4" y="1936.0" width="36.6" height="3.5" rx="1.6" fill="#b0b0b0" opacity="1.00" filter="url(#b1)"/><rect x="1487.0" y="1896.2" width="57.8" height="22.3" rx="7.0" fill="#050505" opacity="1.00" filter="url(#b2)"/><rect x="1496.0" y="1936.0" width="39.8" height="3.5" rx="1.6" fill="#b0b0b0" opacity="1.00" filter="url(#b1)"/><rect x="1543.8" y="1896.2" width="62.8" height="22.3" rx="7.0" fill="#050505" opacity="1.00" filter="url(#b2)"/><rect x="1552.8" y="1936.0" width="44.8" height="3.5" rx="1.6" fill="#b0b0b0" opacity="1.00" filter="url(#b1)"/>
<rect x="1260.5" y="1549.8" width="350.9" height="177.7" fill="none" stroke="#000" stroke-width="2.6"/>
<rect x="1636.3" y="1549.4" width="357.6" height="179.2" fill="none" stroke="#000" stroke-width="2.6"/>
<rect x="1260.5" y="1749.1" width="352.5" height="84.9" fill="none" stroke="#000" stroke-width="2.6"/>
<rect x="1636.3" y="1749.1" width="357.6" height="84.6" fill="none" stroke="#000" stroke-width="2.6"/>
<rect x="1260.5" y="1853.8" width="352.2" height="91.7" fill="none" stroke="#000" stroke-width="2.6"/>
</svg>
</body></html>
